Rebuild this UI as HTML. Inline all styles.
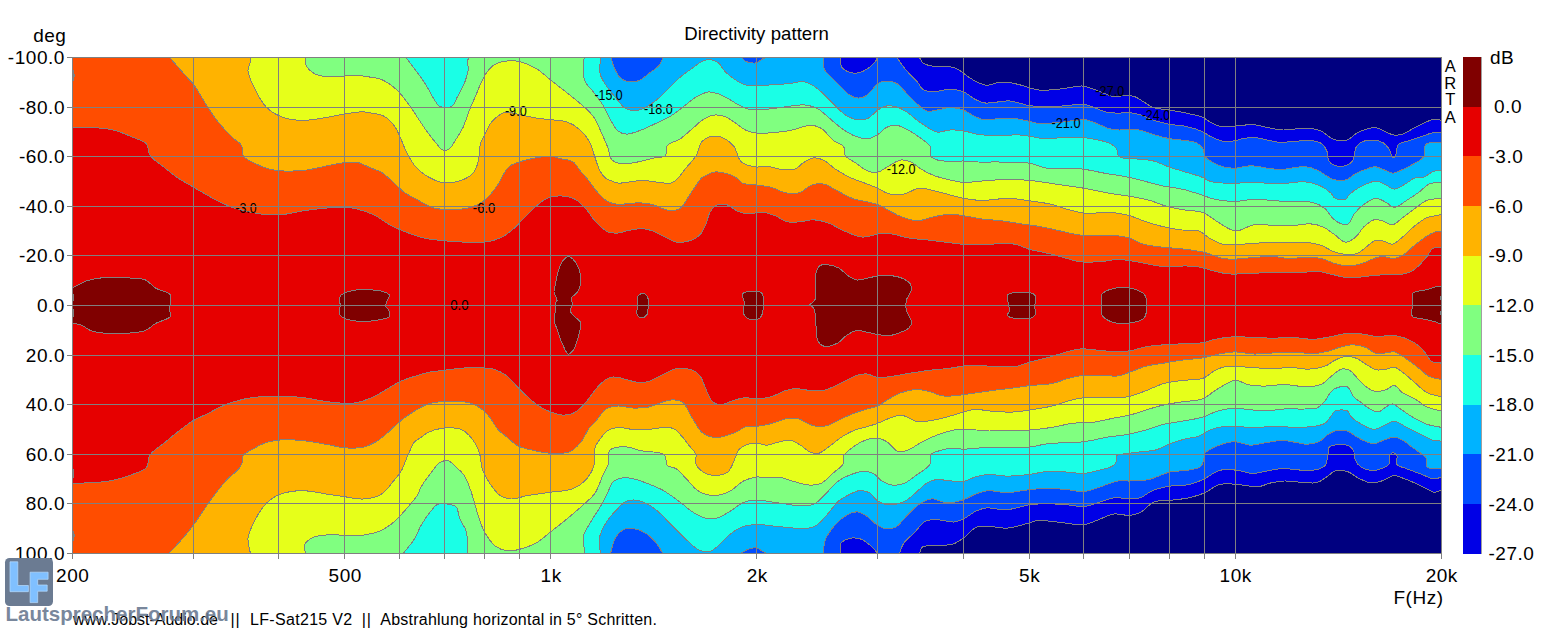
<!DOCTYPE html>
<html><head><meta charset="utf-8"><style>
html,body{margin:0;padding:0;background:#fff;}
body{width:1553px;height:633px;overflow:hidden;position:relative;font-family:"Liberation Sans",sans-serif;color:#000;}
svg{position:absolute;left:0;top:0;}
.t{position:absolute;white-space:nowrap;line-height:1;}
.cl{font-family:"Liberation Sans",sans-serif;font-size:14px;fill:#000;}
.ax{font-family:"Liberation Sans",sans-serif;font-size:19px;fill:#000;letter-spacing:0.55px;}
</style></head><body>
<svg width="1553" height="633" viewBox="0 0 1553 633" shape-rendering="crispEdges">
<rect x="72" y="57" width="1369" height="496" fill="#000080"/>
<defs><clipPath id="pc"><rect x="72" y="57" width="1369" height="496"/></clipPath></defs><g clip-path="url(#pc)">
<path d="M72.00,57.00L919.10,57.00C920.47,59.07 921.16,61.69 923.20,63.20C925.64,65.00 929.67,65.66 933.40,66.20C937.72,66.82 943.38,65.56 947.70,66.20C951.43,66.75 955.11,67.91 957.90,69.30C960.13,70.41 961.24,71.80 963.40,73.30C966.38,75.38 970.37,78.52 974.20,80.50C978.04,82.49 982.29,84.89 986.40,85.20C990.42,85.50 994.69,82.93 998.60,82.50C1002.13,82.11 1005.42,82.16 1008.80,82.50C1012.22,82.85 1015.64,83.75 1019.00,84.60C1022.37,85.45 1025.64,86.68 1029.00,87.60C1032.37,88.52 1035.27,89.71 1039.20,90.10C1044.40,90.61 1051.87,89.84 1057.60,89.30C1062.68,88.82 1067.54,87.78 1071.90,87.20C1075.55,86.71 1078.65,85.78 1082.00,86.00C1085.41,86.22 1088.84,87.50 1092.20,88.60C1095.64,89.72 1098.82,91.39 1102.40,92.70C1106.29,94.13 1110.75,96.43 1114.70,96.80C1118.22,97.13 1121.50,95.40 1124.90,95.40C1128.30,95.40 1131.82,95.64 1135.10,96.80C1138.61,98.04 1142.00,101.02 1145.20,102.90C1148.07,104.59 1150.07,106.45 1153.40,107.60C1157.80,109.12 1164.28,109.09 1169.70,110.00C1175.14,110.92 1180.58,111.90 1186.00,113.10C1191.45,114.30 1197.91,115.33 1202.30,117.20C1205.63,118.61 1207.72,120.83 1210.50,122.30C1213.16,123.71 1215.54,125.19 1218.60,125.90C1222.20,126.74 1226.89,126.51 1230.90,126.40C1234.75,126.29 1238.35,125.58 1242.20,125.30C1246.21,125.01 1250.43,124.36 1254.50,124.70C1258.60,125.05 1262.33,126.57 1266.70,127.40C1271.73,128.36 1277.73,129.80 1283.00,130.00C1287.91,130.18 1292.54,129.07 1297.30,128.80C1302.04,128.53 1307.20,127.84 1311.50,128.40C1315.22,128.88 1318.43,129.82 1321.70,131.40C1325.25,133.12 1328.54,137.07 1331.90,138.60C1334.66,139.86 1337.36,140.44 1340.10,140.60C1342.79,140.76 1345.62,140.63 1348.20,139.60C1351.09,138.44 1353.27,135.28 1356.40,133.50C1359.96,131.47 1364.87,129.24 1368.60,128.40C1371.54,127.74 1374.13,127.53 1376.80,128.00C1379.56,128.49 1382.19,130.25 1384.90,131.40C1387.63,132.55 1390.32,134.40 1393.10,134.90C1395.75,135.37 1398.31,135.26 1401.20,134.50C1404.95,133.52 1409.32,130.43 1413.40,128.40C1417.49,126.36 1421.99,123.92 1425.70,122.30C1428.65,121.01 1431.14,119.50 1433.80,119.20C1436.23,118.92 1438.60,119.87 1441.00,120.20L1441.00,490.30C1438.77,490.97 1436.61,492.45 1434.30,492.30C1431.70,492.13 1429.03,490.04 1426.20,488.70C1423.00,487.18 1419.65,485.23 1416.10,483.60C1412.28,481.85 1407.88,479.99 1404.00,478.60C1400.51,477.35 1397.22,475.27 1393.90,475.50C1390.49,475.74 1387.39,478.97 1383.80,480.20C1379.99,481.51 1375.77,483.29 1371.60,483.00C1367.02,482.68 1361.74,479.66 1357.50,477.60C1353.74,475.77 1351.00,472.62 1347.30,471.50C1343.57,470.37 1338.68,469.89 1335.20,470.90C1332.05,471.81 1329.99,474.73 1327.10,476.60C1323.96,478.64 1320.93,481.57 1317.00,482.60C1312.38,483.81 1306.20,482.47 1300.80,482.20C1295.40,481.93 1289.80,480.83 1284.60,481.00C1279.73,481.16 1274.99,482.01 1270.50,483.00C1266.25,483.94 1262.70,486.28 1258.30,486.70C1253.33,487.17 1246.34,485.47 1242.10,485.00C1239.35,484.69 1238.06,484.33 1235.30,484.20C1231.06,484.00 1224.15,483.19 1219.10,484.60C1214.05,486.02 1209.99,490.51 1205.00,492.70C1199.90,494.94 1194.49,496.53 1188.80,497.80C1182.73,499.16 1175.63,499.71 1169.60,500.40C1164.24,501.01 1159.14,499.97 1154.40,501.80C1149.29,503.78 1144.81,510.24 1140.20,512.50C1136.56,514.28 1133.43,515.06 1129.50,515.40C1124.84,515.81 1119.15,513.32 1114.00,514.00C1108.58,514.72 1103.04,518.16 1097.80,520.00C1092.93,521.71 1089.13,524.10 1083.60,524.70C1076.25,525.50 1065.49,522.70 1057.30,522.00C1050.13,521.38 1042.28,520.03 1037.10,520.60C1033.75,520.97 1032.38,522.11 1029.00,523.00C1023.44,524.46 1014.06,527.64 1006.80,528.10C999.94,528.54 992.19,526.10 986.60,526.10C982.62,526.10 979.79,525.67 976.40,527.10C972.01,528.96 967.64,535.22 963.30,538.20C959.58,540.76 956.62,543.05 952.20,544.30C946.62,545.88 937.56,544.62 932.00,545.30C928.03,545.79 923.88,545.61 921.90,547.30C920.38,548.60 920.50,551.10 919.80,553.00L72.00,553.00Z" fill="#0000E6"/>
<path d="M72.00,57.00L840.60,57.00C840.97,60.40 840.10,64.63 841.70,67.20C843.25,69.68 846.97,71.37 849.80,72.30C852.42,73.16 855.18,73.40 858.00,72.90C861.29,72.32 865.17,70.41 868.20,68.30C871.28,66.16 874.95,62.32 876.30,60.10C877.02,58.92 876.97,58.03 877.30,57.00L896.70,57.00C898.07,59.07 899.14,60.92 900.80,63.20C902.99,66.20 906.10,70.18 908.90,73.30C911.55,76.25 914.66,78.67 917.10,81.50C919.39,84.15 920.50,88.00 923.20,89.70C925.92,91.42 929.59,91.61 933.40,91.70C938.19,91.81 944.51,89.23 949.70,89.30C954.47,89.36 959.26,90.06 963.40,91.70C967.39,93.28 970.55,96.89 974.20,98.80C977.56,100.56 980.64,102.31 984.40,102.90C988.67,103.57 994.26,102.27 998.60,101.90C1002.28,101.59 1005.41,100.74 1008.80,100.90C1012.21,101.06 1015.63,102.12 1019.00,102.90C1022.36,103.68 1025.34,105.01 1029.00,105.60C1033.31,106.29 1038.53,106.27 1043.30,106.40C1048.06,106.53 1052.84,106.63 1057.60,106.40C1062.37,106.17 1067.32,105.36 1071.90,105.00C1076.12,104.67 1080.26,103.81 1084.10,104.30C1087.70,104.76 1090.76,106.38 1094.30,107.60C1098.20,108.95 1102.37,111.19 1106.50,112.10C1110.51,112.99 1114.81,113.06 1118.70,113.10C1122.25,113.14 1125.36,112.23 1128.90,112.50C1132.83,112.79 1137.17,113.84 1141.20,115.10C1145.34,116.39 1148.98,118.73 1153.40,120.20C1158.38,121.86 1164.24,123.26 1169.70,124.30C1175.10,125.32 1180.62,125.22 1186.00,126.40C1191.49,127.60 1197.89,129.50 1202.30,131.50C1205.61,133.00 1207.30,134.97 1210.50,136.50C1214.53,138.42 1220.33,141.04 1224.80,141.60C1228.54,142.07 1232.17,141.17 1235.40,140.60C1238.19,140.11 1240.22,139.09 1243.10,138.60C1246.68,137.99 1251.24,137.34 1255.30,137.60C1259.41,137.86 1263.50,139.41 1267.60,140.20C1271.67,140.98 1275.72,142.07 1279.80,142.30C1283.85,142.53 1287.46,141.85 1292.00,141.60C1297.74,141.29 1306.09,139.94 1311.50,140.60C1315.50,141.09 1319.10,141.84 1321.70,143.70C1324.06,145.39 1325.61,148.08 1326.80,150.80C1328.10,153.77 1327.39,158.53 1328.90,161.00C1330.09,162.95 1331.85,164.22 1334.00,165.10C1336.67,166.19 1341.02,166.82 1344.10,166.10C1347.11,165.40 1350.29,163.66 1352.30,161.00C1354.79,157.70 1354.22,150.06 1356.40,146.70C1358.00,144.25 1360.02,142.70 1362.50,141.60C1365.32,140.35 1369.31,140.04 1372.70,140.20C1376.12,140.36 1380.11,141.03 1382.90,142.60C1385.44,144.03 1387.33,146.36 1389.00,148.80C1390.79,151.41 1391.71,157.75 1393.10,157.90C1394.09,158.01 1395.31,155.61 1396.10,153.90C1397.19,151.55 1396.27,146.90 1398.20,144.70C1400.37,142.23 1405.58,141.94 1409.40,140.60C1413.37,139.21 1417.53,137.85 1421.60,136.50C1425.66,135.15 1430.23,133.07 1433.80,132.50C1436.48,132.07 1438.60,132.50 1441.00,132.50L1441.00,477.60C1438.10,477.93 1435.26,479.00 1432.30,478.60C1429.00,478.15 1425.98,475.96 1422.20,474.50C1417.45,472.66 1410.60,470.39 1406.00,468.50C1402.50,467.07 1398.38,466.69 1396.90,464.40C1395.49,462.21 1397.97,457.27 1396.90,455.30C1396.13,453.87 1394.12,452.63 1392.90,452.70C1391.77,452.77 1390.51,453.97 1389.80,455.30C1388.73,457.29 1390.25,462.18 1388.80,464.40C1387.43,466.50 1384.37,467.50 1381.70,468.50C1378.71,469.62 1374.95,470.67 1371.60,470.50C1368.21,470.33 1364.25,469.18 1361.50,467.40C1358.92,465.73 1356.75,463.15 1355.40,460.40C1353.98,457.50 1354.71,452.79 1353.40,450.30C1352.42,448.44 1351.25,447.15 1349.40,446.20C1346.92,444.92 1342.57,444.44 1339.20,444.60C1335.81,444.76 1330.85,445.25 1329.10,447.20C1327.65,448.82 1328.63,451.69 1328.10,454.30C1327.42,457.61 1327.18,462.84 1325.10,465.40C1323.25,467.67 1320.27,468.65 1317.00,469.50C1312.62,470.63 1306.35,470.24 1300.80,470.10C1294.91,469.95 1288.65,468.27 1282.60,468.50C1276.52,468.73 1269.85,470.60 1264.40,471.50C1259.96,472.23 1256.33,473.59 1252.30,473.50C1248.23,473.41 1244.07,471.58 1240.10,470.90C1236.38,470.27 1232.77,469.55 1229.20,469.50C1225.77,469.45 1222.73,469.36 1219.10,470.50C1214.19,472.05 1208.21,477.19 1202.90,479.60C1198.13,481.77 1193.94,483.49 1188.80,484.60C1182.97,485.86 1175.78,485.14 1169.60,486.20C1163.66,487.22 1157.51,488.59 1152.40,490.70C1147.84,492.58 1144.28,496.49 1140.20,497.80C1136.64,498.94 1133.40,498.74 1129.50,498.80C1124.81,498.87 1119.17,497.19 1114.00,497.80C1108.60,498.44 1103.04,501.31 1097.80,502.80C1092.93,504.19 1088.52,506.13 1083.60,506.50C1078.41,506.89 1073.10,505.24 1067.40,504.80C1061.04,504.31 1053.76,503.78 1047.20,503.80C1040.97,503.82 1034.41,503.97 1029.00,504.80C1024.52,505.49 1020.95,507.05 1016.90,507.90C1012.88,508.74 1009.25,509.78 1004.80,509.90C999.36,510.05 991.76,507.44 986.60,507.90C982.67,508.25 979.90,509.34 976.40,510.90C972.18,512.78 967.38,517.10 963.30,519.00C960.09,520.50 957.61,521.69 954.20,522.00C950.03,522.37 944.73,520.16 940.00,520.00C935.30,519.84 930.10,519.07 925.90,521.00C921.26,523.13 917.67,529.33 913.80,533.20C910.26,536.73 906.01,539.71 903.60,543.30C901.54,546.37 900.93,549.77 899.60,553.00L877.40,553.00C875.37,550.77 873.73,548.44 871.30,546.30C868.47,543.80 864.75,540.52 861.20,539.20C857.98,538.00 854.38,537.59 851.10,538.20C847.64,538.85 842.62,540.67 841.00,543.30C839.50,545.74 841.00,549.77 841.00,553.00L72.00,553.00Z" fill="#004DFF"/>
<path d="M72.00,57.00L610.90,57.00C611.93,60.43 612.53,63.95 614.00,67.30C615.55,70.83 617.49,75.16 620.10,77.60C622.39,79.73 625.33,81.15 628.30,81.70C631.46,82.29 635.32,81.91 638.60,80.70C642.22,79.37 645.52,76.04 648.90,73.50C652.35,70.91 656.64,68.33 659.10,65.30C661.17,62.74 661.90,59.77 663.30,57.00L741.30,57.00C742.67,58.40 743.73,60.24 745.40,61.20C747.14,62.21 749.62,62.55 751.60,62.80C753.37,63.02 755.04,63.31 756.70,62.80C758.59,62.22 760.25,60.07 762.20,59.10C764.12,58.14 766.27,57.70 768.30,57.00L823.30,57.00C823.63,61.10 822.82,65.83 824.30,69.30C825.69,72.55 828.99,74.72 831.50,77.40C834.09,80.16 836.88,82.88 839.60,85.60C842.32,88.32 844.90,91.61 847.80,93.70C850.37,95.55 853.12,97.31 855.90,97.80C858.56,98.27 861.54,97.95 864.10,96.80C867.02,95.49 869.81,92.06 872.20,89.70C874.31,87.63 875.48,84.93 877.80,83.50C880.21,82.01 883.48,81.16 886.50,81.10C889.76,81.04 893.53,81.73 896.70,83.50C900.42,85.57 903.50,90.30 906.90,93.70C910.30,97.10 913.57,100.92 917.10,103.90C920.39,106.67 923.72,110.17 927.30,111.10C930.55,111.94 933.96,110.54 937.50,110.00C941.40,109.41 945.51,107.64 949.70,107.60C954.13,107.55 959.22,108.49 963.40,110.00C967.35,111.43 970.58,114.54 974.20,116.20C977.58,117.75 980.66,119.32 984.40,119.80C988.69,120.35 994.25,118.87 998.60,118.60C1002.28,118.37 1005.40,118.10 1008.80,118.20C1012.20,118.30 1015.63,118.68 1019.00,119.20C1022.36,119.72 1025.84,120.58 1029.00,121.30C1031.87,121.95 1034.30,122.95 1037.20,123.30C1040.39,123.68 1043.61,123.46 1047.40,123.30C1052.20,123.09 1058.67,122.47 1063.70,121.90C1068.07,121.41 1072.01,120.55 1075.90,120.20C1079.44,119.88 1082.75,119.31 1086.10,119.80C1089.55,120.31 1092.77,121.96 1096.30,123.30C1100.21,124.79 1104.55,127.28 1108.50,128.40C1111.99,129.39 1115.13,129.81 1118.70,130.00C1122.60,130.21 1127.10,129.30 1131.00,129.40C1134.56,129.49 1137.69,129.65 1141.20,130.40C1145.13,131.24 1149.04,133.21 1153.40,134.50C1158.33,135.96 1163.90,137.59 1169.30,138.60C1174.76,139.63 1181.13,139.81 1186.00,140.60C1189.83,141.22 1193.37,141.34 1196.20,142.70C1198.67,143.89 1200.79,145.60 1202.30,147.80C1203.96,150.22 1203.80,154.62 1205.40,156.90C1206.72,158.78 1208.33,159.65 1210.50,161.00C1213.61,162.94 1218.49,165.50 1222.70,166.70C1226.80,167.87 1231.25,168.32 1235.40,168.20C1239.41,168.08 1243.62,166.42 1247.20,166.10C1250.14,165.84 1252.33,165.85 1255.30,166.10C1258.99,166.41 1263.34,167.63 1267.60,168.20C1272.15,168.81 1277.57,169.73 1281.80,169.60C1285.23,169.49 1287.66,168.55 1291.10,168.10C1295.35,167.55 1300.86,166.29 1305.40,166.70C1309.67,167.09 1314.03,168.62 1317.60,170.20C1320.71,171.58 1323.04,173.70 1325.80,175.30C1328.51,176.87 1330.89,178.92 1334.00,179.70C1337.57,180.60 1342.46,180.79 1346.20,179.70C1349.92,178.61 1352.91,174.99 1356.40,173.20C1359.72,171.49 1363.37,170.22 1366.60,169.10C1369.43,168.11 1371.85,166.64 1374.70,166.70C1377.91,166.77 1381.69,169.06 1384.90,170.20C1387.79,171.22 1390.38,173.21 1393.10,173.20C1395.81,173.19 1398.26,171.48 1401.20,170.20C1404.89,168.58 1409.59,166.28 1413.40,164.00C1417.03,161.83 1421.55,160.12 1423.60,156.90C1425.65,153.68 1423.60,147.09 1425.70,144.70C1427.44,142.72 1431.15,142.60 1433.80,142.20C1436.24,141.83 1438.60,142.20 1441.00,142.20L1441.00,468.10C1436.40,467.87 1429.49,469.56 1427.20,467.40C1425.34,465.64 1427.30,460.58 1426.20,458.30C1425.34,456.50 1423.92,455.74 1422.20,454.30C1419.67,452.17 1415.26,449.50 1412.10,447.20C1409.23,445.11 1406.97,442.77 1404.00,441.10C1400.92,439.37 1397.29,437.25 1393.90,437.10C1390.56,436.95 1387.16,438.99 1383.80,440.10C1380.39,441.22 1377.00,443.75 1373.60,443.80C1370.23,443.85 1366.62,441.85 1363.50,440.50C1360.59,439.25 1358.08,437.67 1355.40,436.10C1352.67,434.50 1350.42,431.90 1347.30,431.00C1343.79,429.99 1338.74,430.15 1335.20,431.00C1332.13,431.73 1329.71,433.39 1327.10,435.10C1324.29,436.94 1322.19,440.28 1319.00,441.80C1315.54,443.44 1310.76,444.13 1306.90,444.20C1303.39,444.27 1300.45,443.16 1296.80,442.60C1292.47,441.94 1287.49,440.54 1282.60,440.50C1277.38,440.45 1271.79,441.82 1266.40,442.60C1260.99,443.38 1255.47,445.37 1250.20,445.20C1245.11,445.03 1240.38,441.84 1235.30,441.80C1230.02,441.75 1224.17,443.27 1219.10,445.20C1214.08,447.12 1207.07,450.42 1205.00,453.30C1203.84,454.91 1204.53,456.46 1204.00,458.30C1203.31,460.70 1202.98,464.46 1200.90,466.40C1198.39,468.74 1193.35,469.18 1188.80,470.10C1183.18,471.24 1176.08,470.64 1169.60,472.10C1162.59,473.68 1155.27,478.14 1148.30,479.60C1141.93,480.93 1135.00,480.80 1129.50,481.00C1125.20,481.16 1122.31,480.30 1118.00,481.00C1112.14,481.95 1103.96,485.81 1097.80,487.70C1092.67,489.27 1088.53,491.33 1083.60,491.70C1078.42,492.09 1073.11,490.25 1067.40,489.70C1061.05,489.09 1053.76,488.28 1047.20,488.30C1040.97,488.32 1035.36,489.03 1029.00,489.70C1021.96,490.45 1013.84,492.61 1006.80,492.70C1000.44,492.78 994.03,490.34 988.60,490.70C984.10,491.00 980.47,492.27 976.40,493.70C972.04,495.24 968.07,498.30 963.30,499.80C958.06,501.45 951.52,503.08 946.10,502.80C941.14,502.54 936.49,498.55 932.00,498.80C927.74,499.04 923.78,501.24 919.80,503.80C914.98,506.90 909.98,512.86 905.70,517.00C902.02,520.56 899.31,525.21 895.60,527.10C892.45,528.70 888.54,529.12 885.40,528.70C882.51,528.31 880.22,526.86 877.40,525.10C873.61,522.74 869.03,517.23 865.20,515.00C862.37,513.35 859.97,512.00 857.10,511.90C853.94,511.79 850.34,513.19 847.00,515.00C842.92,517.21 838.47,521.01 834.90,525.10C830.98,529.59 826.52,536.05 824.80,541.20C823.44,545.27 824.13,549.07 823.80,553.00L766.10,553.00C764.77,552.33 763.54,551.75 762.10,551.00C760.36,550.09 758.55,548.26 756.40,547.90C753.95,547.49 750.66,548.42 748.10,549.30C745.64,550.15 743.57,551.77 741.30,553.00L662.40,553.00C660.90,550.40 659.97,547.90 657.90,545.20C655.14,541.61 650.63,536.65 646.60,533.90C643.07,531.49 639.23,529.73 635.40,529.00C631.72,528.30 627.41,527.96 624.10,529.40C620.59,530.93 617.32,534.71 615.10,538.40C612.67,542.44 612.10,548.13 610.60,553.00L72.00,553.00Z" fill="#00B3FF"/>
<path d="M72.00,57.00L601.20,57.00C600.67,60.43 599.65,64.06 599.60,67.30C599.55,70.19 599.62,72.59 600.60,75.50C601.89,79.33 605.16,84.06 607.80,87.90C610.32,91.57 613.23,94.81 616.00,98.10C618.70,101.30 621.19,105.32 624.20,107.40C626.73,109.15 629.47,110.21 632.40,110.50C635.60,110.82 639.24,110.10 642.70,108.80C646.77,107.28 651.03,104.20 655.00,101.20C659.28,97.97 663.32,93.80 667.40,89.90C671.55,85.93 675.46,81.27 679.70,77.60C683.68,74.15 688.06,71.25 692.00,68.40C695.56,65.82 698.91,62.66 702.30,61.20C705.06,60.01 707.81,59.20 710.50,59.50C713.28,59.81 716.35,61.33 718.70,63.20C721.21,65.20 722.38,68.80 724.90,71.40C727.75,74.34 731.65,77.42 735.20,79.70C738.50,81.82 741.81,83.78 745.40,84.80C748.98,85.81 752.51,85.76 756.70,85.80C761.94,85.85 768.62,84.99 774.40,84.60C779.95,84.22 785.67,84.08 790.70,83.50C795.07,83.00 799.07,81.08 802.90,81.50C806.51,81.90 809.83,83.70 813.10,85.60C816.66,87.67 819.84,90.60 823.30,93.70C827.29,97.27 831.56,102.26 835.50,106.00C839.00,109.32 841.91,112.79 845.70,115.10C849.42,117.37 854.04,119.38 858.00,119.80C861.51,120.17 865.04,119.65 868.20,118.20C871.69,116.59 874.53,112.09 877.80,110.00C880.65,108.18 883.41,106.52 886.50,106.00C889.70,105.46 893.39,106.04 896.70,107.00C900.20,108.01 903.61,110.00 906.90,112.10C910.42,114.34 913.49,117.56 917.10,120.20C920.93,123.00 925.55,126.32 929.30,128.40C932.23,130.03 934.43,131.71 937.50,132.10C941.10,132.56 945.50,130.24 949.70,130.00C954.12,129.75 958.77,130.10 963.40,130.80C968.30,131.54 972.91,133.71 978.30,134.50C984.50,135.41 991.82,135.43 998.60,135.50C1005.39,135.57 1013.41,134.65 1019.00,134.90C1022.93,135.08 1025.38,135.57 1029.00,136.10C1033.35,136.74 1038.09,138.28 1043.30,138.60C1049.48,138.98 1056.95,137.77 1063.70,137.60C1070.35,137.44 1077.63,137.14 1083.50,137.60C1088.25,137.97 1091.95,138.64 1096.30,139.60C1100.97,140.63 1106.98,141.78 1110.60,143.70C1113.25,145.10 1115.55,146.78 1116.70,148.80C1117.72,150.58 1116.66,153.36 1117.70,154.90C1118.72,156.41 1120.56,157.29 1122.80,158.00C1126.27,159.10 1132.18,158.53 1137.10,159.00C1142.36,159.51 1148.08,159.67 1153.40,161.00C1158.82,162.35 1163.90,165.24 1169.30,167.10C1174.77,168.98 1180.47,170.49 1186.00,172.20C1191.47,173.89 1197.85,175.50 1202.30,177.30C1205.56,178.62 1207.04,180.40 1210.50,181.40C1215.67,182.89 1224.09,183.23 1230.90,183.40C1237.69,183.57 1244.51,182.40 1251.30,182.40C1258.07,182.40 1265.15,183.30 1271.60,183.40C1277.46,183.49 1282.85,183.39 1288.40,183.10C1293.88,182.82 1299.31,181.20 1304.70,181.70C1310.18,182.20 1316.37,184.02 1321.00,186.20C1324.95,188.07 1328.60,190.95 1331.10,193.30C1332.92,195.01 1333.23,197.34 1335.20,198.40C1337.66,199.73 1342.94,200.43 1345.40,199.40C1347.37,198.57 1347.67,196.01 1349.50,194.30C1352.02,191.95 1355.75,189.27 1359.70,187.20C1364.37,184.75 1371.21,181.06 1376.00,181.10C1379.80,181.13 1383.03,183.68 1386.20,185.10C1389.09,186.39 1391.32,189.19 1394.30,189.20C1397.97,189.22 1402.97,185.13 1406.60,183.10C1409.63,181.40 1411.81,178.96 1414.70,178.00C1417.49,177.07 1420.64,178.24 1423.60,177.30C1427.01,176.21 1430.58,172.19 1433.80,171.20C1436.31,170.43 1438.60,170.93 1441.00,170.80L1441.00,441.10C1438.10,440.77 1435.08,440.92 1432.30,440.10C1429.48,439.27 1426.90,437.45 1424.20,436.10C1421.50,434.75 1418.91,433.41 1416.10,432.00C1413.06,430.48 1409.97,428.97 1406.60,427.30C1402.76,425.40 1398.01,421.38 1394.30,421.20C1391.35,421.06 1389.17,423.11 1386.20,424.30C1382.54,425.77 1378.08,429.39 1374.00,429.40C1369.91,429.41 1365.50,426.40 1361.70,424.30C1358.02,422.27 1353.96,419.65 1351.50,417.10C1349.62,415.15 1349.63,412.15 1347.50,411.00C1344.74,409.51 1338.01,409.65 1335.20,411.00C1333.15,411.98 1332.62,414.27 1331.10,416.10C1329.28,418.29 1327.59,421.51 1325.00,423.20C1322.24,425.00 1318.83,425.60 1314.80,426.30C1309.24,427.27 1301.27,427.30 1294.50,427.30C1287.71,427.30 1280.90,426.23 1274.10,426.30C1267.30,426.37 1260.31,427.73 1253.70,427.70C1247.43,427.68 1241.33,426.34 1235.40,426.30C1229.81,426.26 1223.84,426.44 1219.10,427.30C1215.29,427.99 1212.29,428.99 1209.00,430.40C1205.55,431.88 1202.67,434.67 1198.90,436.10C1194.68,437.69 1189.48,437.85 1184.70,439.10C1179.71,440.40 1174.41,441.97 1169.60,443.80C1164.99,445.56 1161.13,448.45 1156.40,449.80C1151.38,451.23 1145.59,451.22 1140.20,451.90C1134.83,452.58 1128.37,453.21 1124.10,453.90C1121.25,454.36 1118.35,453.88 1117.00,455.30C1115.66,456.72 1116.96,460.50 1116.00,462.40C1115.14,464.10 1113.87,465.25 1111.90,466.40C1108.75,468.24 1102.53,469.31 1097.80,470.50C1093.10,471.68 1088.51,473.20 1083.60,473.50C1078.40,473.82 1073.10,472.43 1067.40,472.10C1061.04,471.73 1053.74,471.06 1047.20,471.50C1040.95,471.92 1035.39,473.75 1029.00,474.50C1021.99,475.33 1013.83,476.16 1006.80,476.10C1000.43,476.05 994.05,474.30 988.60,474.50C984.12,474.67 980.48,475.38 976.40,476.50C972.05,477.69 967.91,480.89 963.30,481.60C958.50,482.34 952.88,480.95 948.10,480.60C943.84,480.28 939.79,479.04 936.00,479.60C932.42,480.13 929.10,481.62 925.90,483.60C922.32,485.82 919.40,489.75 915.80,492.70C911.99,495.82 908.21,499.78 903.60,501.80C898.82,503.89 892.19,505.25 887.50,504.80C883.68,504.43 880.40,502.77 877.40,500.80C874.32,498.77 872.44,494.37 869.30,492.70C866.33,491.11 862.53,490.40 859.20,490.70C855.76,491.01 852.32,493.06 849.00,494.70C845.55,496.40 842.20,498.00 838.90,500.80C834.76,504.32 830.73,510.74 826.80,515.00C823.36,518.73 820.34,522.80 816.70,525.10C813.54,527.10 810.18,528.17 806.60,528.70C802.78,529.26 798.97,528.44 794.40,528.10C788.51,527.66 780.72,526.72 774.20,526.10C768.08,525.52 762.07,524.25 756.40,524.50C751.14,524.73 746.01,525.31 741.30,527.20C736.46,529.15 731.71,532.99 727.80,536.20C724.34,539.04 721.92,542.58 718.80,545.20C715.90,547.63 713.14,550.73 709.80,551.50C706.39,552.29 702.20,551.39 698.50,549.70C693.90,547.61 689.42,542.43 685.00,538.40C680.38,534.19 675.92,529.40 671.40,524.90C666.89,520.40 662.36,515.14 657.90,511.40C654.11,508.22 650.52,505.40 646.60,503.50C642.99,501.75 638.96,500.41 635.40,500.10C632.27,499.83 629.36,499.85 626.40,501.20C622.57,502.95 618.52,507.76 615.10,511.40C611.77,514.94 608.66,518.43 606.10,522.70C603.31,527.34 600.18,533.15 599.30,538.40C598.48,543.25 600.03,548.13 600.40,553.00L72.00,553.00Z" fill="#1AFFE6"/>
<path d="M72.00,57.00L405.40,57.00C408.33,60.77 411.15,64.21 414.20,68.30C417.71,73.00 421.84,78.47 425.20,83.70C428.46,88.78 431.36,95.10 434.10,99.20C436.05,102.10 437.00,105.03 439.60,106.30C442.63,107.78 448.82,108.00 451.80,106.30C454.60,104.70 455.38,100.53 457.30,97.00C459.73,92.53 463.14,86.56 465.00,81.50C466.65,77.01 468.15,71.97 468.30,68.30C468.41,65.70 466.92,63.58 467.20,61.60C467.45,59.88 468.67,58.53 469.40,57.00L584.20,57.00C583.83,61.13 582.93,65.29 583.10,69.40C583.27,73.52 583.53,77.97 585.20,81.70C586.91,85.53 590.56,88.24 593.40,92.00C596.69,96.36 600.86,101.68 603.70,106.40C606.20,110.56 607.46,114.68 609.80,118.70C612.23,122.88 614.89,128.46 618.10,131.00C620.57,132.95 623.26,133.93 626.30,134.10C629.96,134.31 634.27,132.48 638.60,131.00C643.74,129.24 649.56,126.35 655.00,123.80C660.52,121.22 666.53,118.66 671.50,115.60C676.04,112.81 679.70,109.48 683.80,106.40C687.90,103.31 691.84,99.54 696.10,97.10C700.06,94.83 704.42,92.40 708.40,92.00C711.93,91.64 715.34,92.85 718.70,94.00C722.22,95.20 725.60,97.34 729.00,99.20C732.47,101.10 735.81,103.58 739.30,105.30C742.65,106.95 746.34,108.65 749.50,109.40C752.06,110.01 753.77,110.01 756.70,110.00C761.30,109.98 768.63,109.08 774.40,108.40C779.95,107.74 785.43,106.57 790.70,106.00C795.61,105.47 800.46,104.54 805.00,105.00C809.27,105.43 813.33,106.41 817.20,108.40C821.51,110.61 825.34,114.88 829.40,118.20C833.50,121.55 837.31,125.36 841.70,128.40C846.14,131.47 851.19,134.81 855.90,136.50C860.02,137.97 864.41,139.05 868.20,138.60C871.66,138.19 874.80,136.32 877.80,134.50C880.91,132.62 883.28,128.93 886.50,127.40C889.60,125.93 893.20,124.96 896.70,125.30C900.64,125.68 904.93,128.27 908.90,130.40C913.10,132.65 917.48,135.75 921.20,138.60C924.58,141.20 928.74,143.47 930.40,146.70C931.91,149.66 929.88,154.68 931.40,156.90C932.64,158.72 935.04,159.26 937.50,160.00C940.80,160.99 945.51,161.22 949.70,161.40C954.13,161.59 958.74,160.91 963.40,161.00C968.26,161.09 972.95,161.82 978.30,162.00C984.54,162.21 991.83,161.90 998.60,162.00C1005.39,162.10 1013.40,162.38 1019.00,162.60C1022.92,162.76 1025.20,162.49 1029.00,163.10C1034.25,163.95 1041.05,167.34 1047.40,168.20C1053.97,169.09 1061.45,168.00 1067.80,168.20C1073.38,168.38 1077.91,168.49 1083.50,169.20C1090.02,170.02 1097.23,171.90 1104.50,173.20C1112.32,174.60 1121.61,175.77 1128.90,177.30C1134.91,178.56 1139.57,179.97 1145.20,181.40C1151.24,182.93 1157.74,184.89 1164.00,186.20C1170.14,187.48 1176.16,187.76 1182.40,189.20C1189.07,190.73 1196.88,193.42 1202.80,195.30C1207.40,196.76 1210.35,198.40 1215.00,199.40C1220.87,200.66 1228.79,201.44 1235.40,201.40C1241.67,201.37 1246.81,199.55 1253.70,199.40C1262.59,199.21 1274.28,200.88 1284.30,201.40C1293.97,201.90 1305.44,200.61 1312.80,202.50C1317.89,203.81 1321.58,205.84 1325.00,208.60C1328.35,211.30 1330.24,216.16 1333.20,218.80C1335.73,221.06 1338.56,223.11 1341.30,223.90C1343.67,224.58 1346.55,225.05 1348.50,223.90C1350.86,222.51 1351.35,217.69 1353.60,214.70C1356.24,211.20 1360.00,207.24 1363.80,204.50C1367.49,201.84 1372.08,198.56 1376.00,198.40C1379.52,198.26 1383.06,200.91 1386.20,202.50C1389.12,203.98 1391.30,207.46 1394.30,207.50C1397.96,207.55 1402.55,202.91 1406.60,200.40C1410.72,197.85 1414.98,195.10 1418.80,192.30C1422.42,189.65 1425.22,185.79 1429.00,184.10C1432.65,182.47 1437.00,182.77 1441.00,182.10L1441.00,427.30C1436.30,426.30 1431.50,425.93 1426.90,424.30C1422.06,422.59 1417.19,419.71 1412.70,417.10C1408.38,414.59 1404.08,411.37 1400.40,409.00C1397.43,407.09 1394.84,404.03 1392.30,403.90C1390.16,403.79 1388.35,405.71 1386.20,406.90C1383.64,408.32 1380.80,411.72 1378.00,412.00C1375.36,412.27 1372.51,410.42 1369.90,409.00C1367.06,407.46 1364.42,404.95 1361.70,402.90C1358.98,400.85 1355.92,399.24 1353.60,396.70C1351.14,394.00 1350.34,388.46 1347.50,387.00C1344.82,385.62 1340.18,386.66 1337.30,387.60C1334.86,388.40 1332.98,389.74 1331.10,391.60C1328.79,393.88 1327.38,398.06 1325.00,400.80C1322.64,403.52 1320.15,406.61 1316.90,408.00C1313.45,409.48 1309.29,408.81 1304.70,409.00C1298.77,409.24 1291.09,408.67 1284.30,409.00C1277.49,409.33 1270.70,411.00 1263.90,411.00C1257.10,411.00 1249.93,409.31 1243.50,409.00C1237.77,408.72 1232.21,408.39 1227.20,409.00C1222.80,409.53 1219.02,410.68 1215.00,412.00C1210.88,413.36 1207.47,415.67 1202.80,417.10C1196.95,418.89 1189.03,419.97 1182.40,421.20C1176.12,422.36 1169.17,423.07 1164.00,424.30C1160.13,425.22 1157.46,426.33 1154.00,427.40C1150.25,428.56 1146.30,429.90 1142.30,431.00C1138.15,432.14 1134.35,433.18 1129.50,434.10C1123.26,435.29 1115.30,435.87 1107.90,437.10C1100.02,438.41 1090.91,440.92 1083.60,441.80C1077.68,442.51 1073.10,442.29 1067.40,442.60C1061.04,442.95 1053.73,443.00 1047.20,443.80C1040.95,444.57 1034.47,446.60 1029.00,447.20C1024.58,447.68 1021.45,447.57 1016.90,447.60C1011.03,447.64 1003.44,447.10 996.70,447.20C989.94,447.30 982.43,447.82 976.40,448.20C971.55,448.50 967.48,449.23 963.30,449.20C959.45,449.17 955.97,448.00 952.20,448.20C948.21,448.41 943.71,449.48 940.00,450.60C936.72,451.59 932.69,452.05 931.00,454.30C929.27,456.60 931.63,461.28 929.90,464.40C927.60,468.54 920.40,472.17 915.80,475.50C911.65,478.50 907.85,482.04 903.60,483.60C899.72,485.02 895.28,485.56 891.50,485.00C887.90,484.46 884.45,482.53 881.40,480.60C878.39,478.69 876.38,475.01 873.30,473.50C870.29,472.02 866.71,471.42 863.20,471.50C859.34,471.59 855.06,473.04 851.10,474.50C846.96,476.03 842.89,477.73 838.90,480.60C834.08,484.07 829.16,490.56 824.80,494.70C821.20,498.12 818.52,501.94 814.70,503.80C811.05,505.57 807.18,505.78 802.50,505.90C796.21,506.06 787.11,504.12 780.30,503.20C774.47,502.41 768.51,501.33 764.10,500.80C761.07,500.44 759.28,499.97 756.40,500.10C752.66,500.26 747.76,500.73 743.60,502.40C738.94,504.27 734.61,508.73 730.00,511.40C725.57,513.97 720.92,517.15 716.50,518.20C712.68,519.11 709.02,519.11 705.20,518.20C700.78,517.15 695.86,514.08 691.70,511.40C687.64,508.79 684.75,505.55 680.50,502.40C675.25,498.50 668.39,493.30 662.40,490.00C657.10,487.08 651.70,485.14 646.60,483.20C641.96,481.43 637.44,479.54 633.10,478.70C629.24,477.95 625.37,477.37 621.90,478.00C618.63,478.60 615.07,479.92 612.80,482.10C610.53,484.28 609.95,487.80 608.30,491.10C606.29,495.14 604.26,499.84 601.60,504.60C598.44,510.26 593.48,517.04 590.30,522.70C587.62,527.46 584.48,531.31 583.50,536.20C582.47,541.36 584.30,547.40 584.70,553.00L467.50,553.00C467.10,545.90 467.93,537.85 466.30,531.70C464.93,526.53 461.33,522.57 459.60,518.20C458.07,514.33 458.42,509.20 456.20,506.90C454.33,504.96 451.21,504.63 448.30,504.20C444.91,503.70 439.76,503.40 437.00,504.60C434.93,505.50 434.23,507.05 432.50,509.10C429.48,512.68 424.36,519.71 421.30,524.90C418.61,529.46 416.97,534.77 414.80,538.40C413.20,541.08 411.74,542.72 410.00,545.00C408.05,547.56 405.73,550.33 403.60,553.00L72.00,553.00Z" fill="#80FF80"/>
<path d="M72.00,57.00L305.50,57.00C305.50,59.33 304.63,61.68 305.50,64.00C306.64,67.03 310.18,70.93 313.40,73.00C316.59,75.05 320.35,75.81 324.70,76.40C330.33,77.17 338.01,76.07 344.50,76.00C350.77,75.94 358.31,75.63 363.00,76.00C365.90,76.23 367.41,76.64 370.00,77.10C373.26,77.68 377.44,77.93 381.00,79.30C384.82,80.77 388.89,83.51 392.10,85.90C394.91,87.99 396.87,89.87 399.40,92.60C402.70,96.16 406.56,101.32 409.80,105.80C412.95,110.16 415.65,114.68 418.60,119.10C421.55,123.51 424.46,128.15 427.50,132.30C430.37,136.22 433.67,140.27 436.30,143.40C438.31,145.80 439.62,148.62 441.80,149.60C443.76,150.48 446.43,150.65 448.50,149.60C451.39,148.13 453.81,142.63 456.20,139.00C458.57,135.40 460.77,132.13 462.80,127.90C465.25,122.78 467.11,115.87 469.40,110.20C471.56,104.86 473.89,99.95 476.10,94.80C478.32,89.65 480.21,83.92 482.70,79.30C484.91,75.21 487.50,70.98 490.00,68.30C491.83,66.34 493.17,65.17 495.60,64.00C499.02,62.35 504.86,60.90 509.20,60.60C513.09,60.33 516.43,60.77 520.40,61.80C525.30,63.07 531.27,65.57 536.20,68.50C541.25,71.50 545.57,75.97 550.30,79.70C555.07,83.47 559.76,87.06 564.70,91.00C570.01,95.23 576.13,99.82 581.10,104.30C585.61,108.36 590.01,111.89 593.40,116.60C596.89,121.45 599.12,127.77 601.60,133.10C603.88,138.01 606.03,142.76 607.80,147.40C609.42,151.64 609.31,157.05 611.90,159.80C614.29,162.34 618.30,163.41 622.20,163.90C626.97,164.50 633.16,162.82 638.60,161.80C644.10,160.76 650.15,158.78 655.00,157.70C658.82,156.85 663.23,157.75 665.30,155.70C667.37,153.65 665.36,148.07 667.40,145.40C669.74,142.34 675.74,141.79 679.70,139.20C683.96,136.41 687.90,132.41 692.00,129.00C696.10,125.58 700.17,121.07 704.30,118.70C707.71,116.74 711.12,115.33 714.60,115.00C717.99,114.68 721.58,115.40 724.90,116.60C728.46,117.89 731.81,120.59 735.20,122.80C738.65,125.05 741.75,128.28 745.40,130.00C748.93,131.67 752.47,132.60 756.70,133.10C761.90,133.71 768.63,132.97 774.40,132.50C779.96,132.05 785.00,131.48 790.70,130.40C797.15,129.18 805.48,125.16 811.10,125.30C815.10,125.40 817.99,126.41 821.30,128.40C825.51,130.93 829.42,137.42 833.50,140.60C836.89,143.24 841.94,143.99 843.70,146.70C845.17,148.96 843.26,152.44 844.70,154.90C846.57,158.09 852.04,160.42 855.90,163.10C859.87,165.86 864.18,169.76 868.20,171.20C871.45,172.36 874.61,172.86 877.80,172.20C881.41,171.45 884.86,168.09 888.60,166.10C892.52,164.02 896.83,160.54 900.80,160.00C904.27,159.53 907.74,160.61 911.00,162.00C914.57,163.53 917.56,167.02 921.20,169.20C925.00,171.48 929.09,173.62 933.40,175.30C937.90,177.05 942.79,178.23 947.70,179.40C952.78,180.61 958.02,182.09 963.40,182.40C969.01,182.72 974.55,181.54 980.70,181.10C987.71,180.60 995.39,179.74 1003.20,179.60C1011.67,179.45 1020.43,179.59 1029.70,180.40C1040.03,181.30 1052.57,183.69 1062.30,185.10C1070.18,186.24 1076.27,186.92 1083.70,188.20C1091.85,189.60 1101.16,191.91 1109.20,193.30C1116.36,194.54 1122.82,195.12 1129.60,196.30C1136.39,197.48 1143.80,198.69 1149.90,200.40C1155.09,201.85 1158.94,204.03 1164.00,205.50C1169.68,207.15 1176.09,208.43 1182.40,209.60C1189.00,210.82 1196.60,210.32 1202.80,212.60C1208.79,214.80 1213.59,219.70 1219.10,222.80C1224.46,225.82 1229.72,230.59 1235.40,231.00C1241.24,231.42 1247.35,225.87 1253.70,224.90C1260.23,223.91 1267.30,225.23 1274.10,225.30C1280.90,225.37 1288.09,225.57 1294.50,225.30C1300.24,225.05 1305.79,223.51 1310.80,223.90C1315.19,224.24 1319.08,225.17 1323.00,226.90C1327.24,228.78 1331.33,232.45 1335.20,235.10C1338.76,237.54 1341.92,241.95 1345.40,242.20C1348.73,242.44 1352.61,239.51 1355.60,237.10C1358.80,234.52 1360.68,229.81 1363.80,226.90C1366.84,224.07 1370.64,220.63 1374.00,219.80C1376.72,219.13 1379.29,220.08 1382.10,220.80C1385.36,221.64 1389.00,225.29 1392.30,224.90C1395.82,224.49 1398.97,220.27 1402.50,217.70C1406.40,214.87 1410.60,211.51 1414.70,208.60C1418.73,205.74 1422.48,202.10 1426.90,200.40C1431.25,198.73 1436.30,199.07 1441.00,198.40L1441.00,411.00C1436.30,409.63 1431.29,408.94 1426.90,406.90C1422.52,404.87 1418.84,401.20 1414.70,398.80C1410.70,396.49 1406.03,395.08 1402.50,392.70C1399.34,390.57 1397.15,385.86 1394.30,385.50C1391.70,385.17 1389.13,388.59 1386.20,389.60C1383.06,390.68 1379.33,392.04 1376.00,391.60C1372.52,391.14 1368.85,388.78 1365.80,386.60C1362.71,384.39 1360.32,381.12 1357.60,378.40C1354.89,375.69 1352.48,371.77 1349.50,370.30C1346.97,369.05 1344.05,368.53 1341.30,369.20C1337.92,370.03 1334.45,373.88 1331.10,376.40C1327.69,378.97 1325.05,382.78 1321.00,384.50C1316.44,386.44 1310.44,386.53 1304.70,386.60C1298.29,386.68 1291.10,384.58 1284.30,384.50C1277.50,384.42 1270.32,386.16 1263.90,386.10C1258.16,386.04 1252.57,385.64 1247.60,384.50C1243.17,383.48 1239.05,379.91 1235.40,380.00C1232.38,380.08 1230.15,382.02 1227.20,383.50C1223.48,385.37 1219.03,388.08 1215.00,390.60C1210.89,393.17 1207.63,396.93 1202.80,398.80C1197.08,401.01 1189.02,400.76 1182.40,401.80C1176.10,402.79 1170.07,403.54 1164.00,404.90C1157.90,406.27 1151.76,408.26 1145.90,410.00C1140.31,411.66 1135.07,413.73 1129.60,415.10C1124.21,416.45 1119.03,417.08 1113.30,418.20C1106.88,419.46 1099.73,421.45 1092.90,422.30C1086.13,423.14 1079.27,422.46 1072.50,423.30C1065.67,424.15 1059.14,426.30 1052.10,427.40C1044.66,428.56 1036.64,429.50 1029.00,430.00C1021.54,430.49 1013.83,430.22 1006.80,430.40C1000.43,430.56 994.06,431.13 988.60,431.00C984.12,430.89 980.54,430.33 976.40,430.00C972.11,429.66 967.00,428.98 963.30,429.00C960.57,429.01 958.76,429.19 956.20,429.60C953.11,430.09 949.71,430.92 946.10,432.00C941.76,433.30 936.48,435.18 932.00,437.10C927.73,438.93 923.83,441.03 919.80,443.20C915.72,445.40 911.69,448.89 907.70,450.20C904.30,451.31 900.76,452.32 897.60,451.30C893.95,450.12 891.07,444.44 887.50,442.20C884.30,440.20 881.11,438.43 877.40,438.10C873.12,437.72 867.77,439.23 863.20,441.10C858.28,443.12 852.42,447.42 849.00,450.20C846.78,452.01 845.02,453.14 844.00,455.30C842.84,457.74 844.37,461.78 843.00,464.40C841.52,467.25 837.99,468.83 834.90,471.50C830.84,475.01 825.58,481.48 820.70,483.60C816.76,485.31 812.77,485.25 808.60,485.00C804.03,484.73 799.11,482.85 794.40,481.60C789.68,480.35 785.06,478.18 780.30,477.50C775.62,476.83 770.38,477.59 766.10,477.50C762.56,477.43 759.82,476.66 756.40,477.10C752.39,477.61 747.75,478.90 743.60,481.00C738.93,483.36 734.94,488.66 730.00,491.10C725.15,493.49 719.54,495.60 714.30,495.60C709.04,495.60 703.04,493.77 698.50,491.10C694.02,488.47 690.97,483.55 687.20,479.80C683.44,476.05 679.72,471.05 675.90,468.60C672.93,466.69 668.78,467.38 666.90,465.20C664.95,462.93 667.23,457.45 664.70,455.00C660.77,451.20 646.53,452.07 639.90,450.50C635.37,449.43 632.41,447.74 628.60,447.20C624.87,446.67 620.66,446.52 617.30,447.20C614.39,447.79 611.09,448.31 609.50,450.50C607.48,453.28 609.42,460.13 608.30,464.10C607.33,467.51 605.51,469.47 603.80,473.10C601.26,478.49 598.59,487.91 594.80,493.40C591.60,498.05 587.65,500.76 583.50,504.60C578.76,508.99 573.18,513.73 567.80,518.20C562.31,522.76 556.36,527.42 550.90,531.70C545.85,535.66 541.59,540.01 536.20,543.00C530.71,546.04 523.58,548.46 518.20,549.70C514.07,550.65 510.60,551.33 506.90,550.80C503.07,550.26 499.04,548.90 495.60,546.30C491.37,543.10 487.38,537.07 484.40,531.70C481.34,526.20 479.75,520.00 477.60,513.60C475.23,506.55 473.36,497.87 470.90,491.10C468.80,485.30 467.02,479.61 464.10,475.30C461.59,471.59 457.95,468.89 455.10,466.30C452.73,464.15 450.89,461.29 448.30,460.70C445.64,460.09 441.88,461.32 439.30,462.90C436.56,464.58 434.97,467.65 432.50,470.80C429.14,475.10 424.00,481.96 421.30,486.60C419.37,489.92 419.00,492.55 417.10,495.60C414.80,499.29 411.41,502.95 408.00,506.90C404.01,511.52 399.25,517.45 394.50,521.50C390.21,525.16 386.03,528.26 381.00,530.50C375.61,532.90 369.09,534.33 363.00,535.10C356.92,535.86 350.77,535.10 344.50,535.10C338.01,535.10 330.36,534.55 324.70,535.10C320.39,535.52 316.76,535.65 313.40,537.30C309.97,538.98 305.49,542.25 304.40,545.20C303.51,547.59 305.13,550.40 305.50,553.00L72.00,553.00Z" fill="#E6FF1A"/>
<path d="M72.00,57.00L250.30,57.00C250.30,58.60 250.53,59.97 250.30,61.80C249.98,64.35 247.81,67.32 248.00,70.80C248.28,75.81 251.90,82.94 254.80,88.80C257.84,94.95 261.30,102.03 266.00,106.80C270.44,111.30 276.04,114.73 281.90,117.00C287.99,119.36 294.78,120.24 302.00,120.40C310.37,120.58 321.45,118.24 329.20,117.00C335.05,116.06 339.14,114.84 344.50,114.00C350.36,113.08 358.31,111.71 363.00,111.80C365.89,111.85 367.30,112.39 370.00,112.90C373.74,113.60 379.32,113.76 383.30,115.80C387.45,117.93 391.37,121.84 394.30,125.70C397.24,129.57 398.75,134.38 400.90,139.00C403.19,143.92 404.97,149.56 407.60,154.40C410.16,159.11 412.96,163.95 416.40,167.70C419.65,171.24 423.46,174.10 427.50,176.50C431.56,178.91 436.66,181.14 440.70,182.10C443.89,182.86 446.36,182.93 449.60,182.70C453.59,182.42 458.75,181.66 462.80,179.90C466.86,178.13 471.30,175.38 473.90,172.10C476.33,169.03 477.22,165.28 478.30,161.10C479.62,155.97 479.05,148.18 480.50,143.40C481.57,139.85 483.30,137.75 484.90,134.60C486.78,130.90 488.10,126.13 491.10,122.60C494.46,118.65 499.77,113.74 504.70,112.50C509.38,111.32 514.68,113.80 519.80,114.70C525.17,115.65 530.92,117.26 536.20,118.10C541.06,118.88 545.42,119.11 550.30,119.70C555.56,120.34 561.78,120.12 566.70,121.80C571.27,123.36 575.32,125.89 579.00,129.00C582.91,132.30 586.72,136.79 589.30,141.30C591.82,145.71 592.68,150.91 594.40,155.70C596.12,160.48 597.46,166.00 599.60,170.00C601.36,173.29 603.36,176.43 605.70,178.30C607.63,179.84 609.99,180.28 612.10,181.10C614.09,181.87 615.73,182.84 618.00,183.10C620.91,183.43 624.52,182.50 628.20,182.10C632.57,181.63 637.73,180.40 642.50,180.40C647.27,180.40 652.04,181.65 656.80,182.10C661.54,182.55 667.35,184.06 671.00,183.10C673.63,182.41 675.11,180.91 677.20,179.00C680.08,176.37 682.95,171.76 686.00,168.00C689.24,164.00 693.38,160.17 696.10,155.70C698.80,151.26 698.83,144.57 702.30,141.30C705.73,138.07 711.84,135.69 716.70,136.10C722.09,136.56 728.99,141.07 733.10,145.40C737.15,149.67 737.17,158.20 741.30,161.80C745.19,165.19 752.13,166.47 756.70,167.00C760.20,167.41 762.73,165.89 766.20,166.10C770.50,166.36 775.71,168.69 780.50,169.20C785.24,169.71 790.88,170.51 794.80,169.20C798.10,168.10 799.95,164.92 802.90,163.10C806.02,161.17 809.62,158.47 813.10,158.00C816.42,157.55 819.92,158.49 823.30,160.00C827.40,161.83 831.17,166.36 835.50,169.20C839.99,172.14 844.90,174.97 849.80,177.30C854.64,179.60 859.91,181.22 864.70,183.10C869.16,184.85 873.47,186.36 877.60,188.20C881.56,189.97 884.86,192.86 889.00,193.90C893.39,195.00 898.46,195.11 903.30,194.30C908.64,193.41 913.79,188.66 919.60,188.20C925.95,187.69 932.98,190.69 940.00,192.30C947.60,194.05 956.32,197.04 963.60,198.40C969.72,199.54 974.26,200.25 980.70,200.40C989.01,200.59 1000.58,198.19 1009.30,198.40C1016.68,198.57 1022.75,199.82 1029.70,200.80C1037.00,201.83 1045.28,202.88 1052.10,204.50C1058.02,205.91 1063.02,208.15 1068.40,209.60C1073.55,210.99 1078.26,212.54 1083.70,213.10C1089.75,213.72 1097.66,212.76 1103.10,212.70C1107.04,212.66 1109.52,212.36 1113.30,212.70C1118.12,213.14 1124.23,214.21 1129.60,215.70C1135.10,217.22 1140.28,219.96 1145.90,221.80C1151.74,223.71 1157.90,225.53 1164.00,226.90C1170.07,228.26 1176.43,229.32 1182.40,230.00C1187.98,230.64 1193.85,229.37 1198.70,231.00C1203.29,232.54 1206.72,236.87 1210.90,239.10C1214.87,241.22 1218.94,243.26 1223.10,244.20C1227.11,245.11 1230.90,244.89 1235.40,244.80C1240.90,244.69 1247.43,243.54 1253.70,243.20C1260.31,242.85 1266.61,242.95 1274.10,242.80C1283.27,242.62 1296.12,241.48 1304.70,242.20C1311.01,242.73 1316.06,243.63 1321.00,245.30C1325.48,246.81 1329.05,249.87 1333.20,251.40C1337.19,252.87 1341.31,254.07 1345.40,254.40C1349.44,254.72 1354.10,254.72 1357.60,253.40C1360.80,252.19 1362.90,249.39 1365.80,247.30C1369.00,245.00 1372.64,241.03 1376.00,240.20C1378.72,239.53 1381.43,240.56 1384.10,241.20C1386.86,241.87 1389.51,244.56 1392.30,244.20C1395.62,243.77 1399.04,239.87 1402.50,237.10C1406.49,233.90 1410.50,229.20 1414.70,225.90C1418.65,222.79 1422.49,219.57 1426.90,217.70C1431.27,215.85 1436.30,215.70 1441.00,214.70L1441.00,396.70C1436.30,395.37 1431.21,394.98 1426.90,392.70C1422.41,390.33 1418.77,385.90 1414.70,382.50C1410.63,379.10 1406.25,375.02 1402.50,372.30C1399.58,370.18 1397.12,367.65 1394.30,367.20C1391.68,366.78 1389.08,368.76 1386.20,369.20C1383.02,369.68 1379.29,370.56 1376.00,369.80C1372.48,368.99 1369.19,366.06 1365.80,364.10C1362.39,362.13 1359.13,359.28 1355.60,358.00C1352.31,356.81 1348.76,356.08 1345.40,356.40C1341.96,356.73 1338.53,358.52 1335.20,360.10C1331.72,361.75 1328.95,364.71 1325.00,366.20C1320.33,367.96 1313.96,368.98 1308.70,369.20C1303.82,369.40 1299.67,368.00 1294.50,367.80C1288.32,367.56 1280.90,368.20 1274.10,368.20C1267.30,368.20 1260.31,368.15 1253.70,367.80C1247.43,367.46 1240.90,366.22 1235.40,366.20C1230.89,366.19 1226.72,366.38 1223.10,367.20C1220.06,367.89 1217.89,368.81 1215.00,370.30C1211.25,372.23 1207.64,376.68 1202.80,378.40C1197.08,380.44 1189.01,379.52 1182.40,380.40C1176.09,381.24 1170.02,381.82 1164.00,383.50C1157.85,385.22 1151.80,388.50 1145.90,390.70C1140.35,392.77 1134.71,395.23 1129.60,396.40C1125.27,397.39 1121.40,397.57 1117.30,397.80C1113.23,398.03 1109.73,397.80 1105.10,397.80C1098.96,397.80 1090.21,397.15 1083.70,397.80C1078.14,398.36 1073.55,399.58 1068.40,400.90C1063.02,402.28 1058.01,404.55 1052.10,406.00C1045.27,407.67 1036.82,408.96 1029.70,410.00C1023.28,410.94 1017.60,411.90 1011.30,412.10C1004.68,412.31 997.31,411.59 990.90,411.10C985.16,410.66 979.47,409.07 974.60,409.40C970.55,409.68 967.68,411.01 963.60,412.10C958.43,413.49 951.85,415.73 946.10,417.20C940.59,418.61 934.88,420.06 929.80,420.80C925.44,421.44 921.11,422.31 917.50,421.70C914.45,421.18 912.12,419.30 909.40,418.20C906.69,417.10 904.11,415.28 901.20,415.10C898.01,414.91 894.58,416.41 891.00,417.60C886.78,419.00 882.06,421.65 877.60,423.30C873.30,424.90 868.69,426.22 864.70,427.40C861.28,428.41 858.42,428.73 855.10,430.00C851.23,431.48 846.94,433.66 843.00,436.10C838.83,438.68 834.90,442.30 830.80,445.20C826.79,448.03 822.49,452.40 818.70,453.30C815.86,453.97 813.32,453.35 810.60,452.30C807.26,451.01 803.94,447.26 800.50,445.20C797.20,443.22 794.01,440.64 790.40,440.10C786.63,439.54 782.33,441.36 778.30,442.20C774.23,443.05 769.47,445.17 766.10,445.20C763.72,445.22 762.39,444.03 760.00,443.80C756.71,443.48 751.69,443.18 748.10,444.20C744.73,445.15 741.26,446.90 739.00,449.40C736.67,451.98 736.23,456.07 734.50,459.60C732.56,463.57 731.19,469.38 727.80,472.00C724.44,474.60 718.59,475.40 714.30,475.30C710.35,475.21 706.16,474.15 703.00,472.00C699.70,469.75 695.92,465.03 695.10,461.80C694.50,459.44 696.76,457.30 696.20,455.00C695.48,452.06 691.93,449.14 689.50,446.00C686.75,442.45 683.49,437.90 680.50,434.80C678.03,432.24 676.12,429.61 673.10,428.40C669.72,427.05 665.12,427.61 660.90,427.80C656.31,428.01 651.38,429.53 646.60,429.80C641.84,430.06 637.06,429.80 632.30,429.40C627.52,429.00 622.27,427.08 618.00,427.40C614.42,427.67 611.06,428.65 608.30,430.30C605.63,431.90 603.69,434.33 601.60,437.00C599.13,440.15 595.83,444.61 594.80,448.30C593.95,451.35 594.98,454.31 594.80,457.30C594.62,460.31 594.77,463.12 593.70,466.30C592.29,470.48 589.31,476.06 585.80,479.80C582.22,483.62 577.58,486.83 572.30,488.90C566.21,491.28 558.22,491.11 550.90,492.20C543.20,493.35 534.28,494.33 527.20,495.60C521.38,496.64 516.19,499.20 511.40,499.00C507.32,498.83 503.64,497.87 500.20,495.60C495.99,492.81 491.98,486.78 488.90,482.10C486.04,477.76 483.60,473.23 482.10,468.60C480.67,464.18 481.08,459.25 479.90,455.00C478.79,451.02 477.33,447.21 475.40,443.80C473.53,440.50 471.11,437.27 468.60,434.80C466.33,432.57 464.02,430.57 461.20,429.40C458.22,428.16 454.48,427.97 451.10,427.80C447.72,427.63 444.46,427.74 440.90,428.40C436.81,429.16 431.67,430.68 428.00,432.50C424.88,434.04 422.39,436.48 420.00,438.10C418.09,439.39 416.42,439.68 414.80,441.50C412.27,444.34 410.18,450.29 408.00,455.00C405.67,460.02 403.84,466.40 401.30,470.80C399.24,474.37 397.25,476.51 394.50,479.80C390.85,484.18 386.38,491.30 381.00,494.50C375.82,497.58 369.08,498.63 363.00,499.00C356.91,499.37 350.37,497.49 344.50,496.70C339.15,495.98 335.02,495.33 329.20,494.50C321.45,493.40 310.70,490.58 302.10,490.70C294.24,490.81 285.93,491.99 279.60,494.50C274.27,496.62 270.06,499.54 266.10,503.50C261.66,507.93 257.84,514.50 254.80,520.40C251.84,526.14 248.59,532.64 248.00,538.40C247.48,543.45 249.53,548.13 250.30,553.00L72.00,553.00Z" fill="#FFB300"/>
<path d="M72.00,57.00L169.20,57.00C175.20,63.83 182.71,72.53 187.20,77.50C189.81,80.40 191.15,81.23 193.50,84.30C197.47,89.50 202.99,100.02 207.50,106.80C211.35,112.59 214.61,117.56 218.70,122.60C222.86,127.73 228.14,133.24 232.30,137.30C235.52,140.44 239.44,141.96 241.30,145.20C243.12,148.36 241.72,153.71 243.50,156.40C245.01,158.68 247.40,159.41 250.30,161.00C254.78,163.46 262.38,167.14 268.30,168.80C273.63,170.30 278.36,170.73 284.10,171.00C290.93,171.32 299.13,170.92 306.60,170.00C314.16,169.07 322.39,166.69 329.20,165.40C334.79,164.34 339.49,163.14 344.50,162.70C349.25,162.28 354.15,161.80 358.50,162.70C362.62,163.56 366.20,166.11 370.00,167.70C373.70,169.24 377.47,170.04 381.00,172.10C384.87,174.36 388.38,177.78 392.10,181.00C396.11,184.47 399.80,189.06 404.20,192.30C408.57,195.52 413.62,197.84 418.40,200.40C423.13,202.94 428.07,206.07 432.70,207.60C436.67,208.91 440.32,209.26 444.30,209.60C448.47,209.96 452.67,210.03 457.20,209.60C462.34,209.12 468.60,208.33 473.50,206.50C478.02,204.81 482.22,202.24 485.70,199.40C488.95,196.75 491.71,192.94 493.90,190.20C495.54,188.15 496.27,187.03 497.90,184.60C500.76,180.33 504.13,170.75 509.20,166.60C514.02,162.65 520.69,161.48 527.20,159.80C534.46,157.93 544.78,156.12 550.90,156.40C554.83,156.58 557.10,157.87 560.50,158.70C564.37,159.65 569.48,159.60 572.90,161.80C576.37,164.03 578.59,169.18 581.10,172.10C583.07,174.38 584.60,175.62 586.60,178.00C589.35,181.28 592.51,186.42 595.80,190.20C598.99,193.87 602.15,198.00 606.00,200.40C609.61,202.65 614.11,204.05 618.00,204.50C621.49,204.91 624.64,203.76 628.20,203.50C632.10,203.21 636.42,202.73 640.50,202.90C644.58,203.07 648.87,203.50 652.70,204.50C656.32,205.45 659.66,207.55 662.90,208.60C665.72,209.51 668.15,210.66 671.00,210.60C674.21,210.53 678.48,209.59 681.20,207.60C683.98,205.57 685.20,201.69 687.40,198.40C689.93,194.62 692.94,189.83 695.50,186.20C697.63,183.16 699.85,179.67 701.60,178.00C702.59,177.06 703.06,176.85 704.30,176.20C706.58,175.00 711.11,172.60 714.60,172.10C717.98,171.62 721.38,172.21 724.90,173.10C728.89,174.11 734.09,176.30 737.20,178.30C739.46,179.76 740.01,181.97 742.40,183.10C745.82,184.72 751.94,184.42 756.70,185.10C761.44,185.78 766.23,185.97 770.90,187.20C775.73,188.47 780.35,191.80 785.20,192.70C789.89,193.57 795.09,193.96 799.50,192.70C803.92,191.43 807.45,186.51 811.70,185.10C815.64,183.80 820.01,183.33 824.00,184.10C828.19,184.91 831.84,188.01 836.20,190.20C841.24,192.73 846.34,196.13 852.50,198.40C859.83,201.10 870.99,201.97 877.60,204.50C882.28,206.29 885.12,208.59 889.00,210.60C892.98,212.66 896.74,215.05 901.20,216.70C906.15,218.54 912.06,220.80 917.50,220.80C922.96,220.80 928.41,217.79 933.90,216.70C939.32,215.63 945.03,214.41 950.20,214.30C954.88,214.20 958.87,215.03 963.60,215.70C968.97,216.47 974.73,217.97 980.70,218.80C987.18,219.70 994.31,219.95 1001.10,220.80C1007.91,221.65 1014.70,222.88 1021.50,223.90C1028.30,224.92 1035.12,225.66 1041.90,226.90C1048.72,228.15 1055.68,230.00 1062.30,231.40C1068.56,232.72 1074.30,234.47 1080.60,235.10C1087.18,235.76 1094.58,234.98 1101.00,235.10C1106.74,235.21 1112.27,235.12 1117.30,235.70C1121.71,236.21 1125.43,236.80 1129.60,238.10C1134.24,239.55 1138.54,242.79 1143.80,244.30C1149.84,246.03 1157.41,246.53 1164.00,247.30C1170.26,248.04 1176.01,248.11 1182.40,248.90C1189.42,249.76 1197.43,250.72 1204.40,252.40C1210.95,253.98 1217.45,257.46 1223.10,258.50C1227.57,259.32 1230.90,259.19 1235.40,259.10C1240.90,258.99 1247.43,257.93 1253.70,257.50C1260.31,257.05 1267.91,256.22 1274.10,256.50C1279.30,256.73 1283.47,258.31 1288.40,258.50C1293.65,258.70 1299.27,257.50 1304.70,257.50C1310.13,257.50 1315.83,257.43 1321.00,258.50C1325.97,259.52 1330.40,262.35 1335.20,263.60C1339.90,264.83 1344.93,266.06 1349.50,266.00C1353.73,265.94 1357.68,264.81 1361.70,263.60C1365.86,262.34 1370.28,259.72 1374.00,258.50C1376.94,257.53 1379.11,256.62 1382.10,256.50C1385.74,256.36 1390.68,258.86 1394.30,258.50C1397.35,258.20 1399.64,257.06 1402.50,255.40C1406.34,253.17 1410.60,248.54 1414.70,245.30C1418.73,242.11 1423.14,238.43 1426.90,236.10C1429.82,234.29 1432.53,232.75 1435.10,232.00C1437.17,231.40 1439.03,231.60 1441.00,231.40L1441.00,379.40C1437.00,378.40 1432.66,378.22 1429.00,376.40C1425.24,374.53 1422.37,370.98 1418.80,368.20C1414.94,365.19 1410.76,361.76 1406.60,359.00C1402.59,356.34 1398.09,352.67 1394.30,351.90C1391.42,351.32 1389.06,352.64 1386.20,352.90C1383.00,353.19 1379.28,354.30 1376.00,353.50C1372.46,352.63 1369.48,348.85 1365.80,347.40C1362.03,345.92 1357.68,344.90 1353.60,344.80C1349.52,344.70 1345.35,345.80 1341.30,346.80C1337.18,347.82 1333.37,349.80 1329.10,350.90C1324.56,352.07 1320.00,353.19 1314.80,353.50C1308.64,353.87 1301.28,352.40 1294.50,352.30C1287.71,352.20 1280.90,352.62 1274.10,352.90C1267.30,353.18 1260.31,354.20 1253.70,354.00C1247.43,353.81 1241.32,351.86 1235.40,351.90C1229.81,351.94 1224.37,353.02 1219.10,354.00C1214.05,354.94 1209.83,356.63 1204.40,357.60C1197.84,358.77 1189.39,359.13 1182.40,360.10C1175.98,360.99 1170.11,362.08 1164.00,363.10C1157.94,364.11 1151.70,364.63 1145.90,366.20C1140.25,367.73 1134.68,370.59 1129.60,372.30C1125.24,373.77 1121.59,375.46 1117.30,376.00C1112.78,376.57 1108.20,375.51 1103.10,375.40C1097.14,375.27 1089.76,374.81 1083.70,375.40C1078.27,375.93 1073.54,377.09 1068.40,378.40C1063.02,379.77 1058.03,382.31 1052.10,383.50C1045.29,384.87 1036.79,384.77 1029.70,385.60C1023.26,386.36 1017.60,387.37 1011.30,388.20C1004.68,389.07 997.69,389.78 990.90,390.70C984.09,391.62 976.92,392.81 970.50,393.70C964.77,394.49 959.25,395.48 954.20,395.80C949.85,396.08 946.01,396.46 942.00,395.80C937.88,395.13 933.92,392.74 929.80,391.70C925.75,390.68 921.88,389.56 917.50,389.60C912.44,389.65 906.14,391.03 901.20,392.70C896.72,394.21 892.94,396.58 889.00,398.80C885.08,401.01 881.48,404.28 877.60,406.00C874.06,407.57 870.50,407.87 866.80,409.00C862.82,410.22 858.71,411.50 854.50,413.10C849.90,414.85 844.84,417.10 840.30,419.20C836.02,421.18 832.21,424.13 828.00,425.30C824.03,426.40 819.42,426.79 815.80,426.30C812.75,425.89 810.29,424.47 807.60,423.30C804.86,422.11 802.44,420.06 799.50,419.20C796.37,418.29 793.16,417.83 789.30,418.20C784.02,418.71 776.67,422.31 770.90,423.70C765.90,424.90 761.06,425.90 756.70,426.30C753.04,426.63 749.79,425.44 746.50,426.30C742.98,427.22 739.82,430.40 736.30,432.00C732.81,433.59 729.18,434.98 725.50,435.90C721.85,436.81 718.08,438.01 714.30,437.50C710.12,436.94 704.81,434.62 701.60,432.00C698.78,429.70 697.48,426.35 695.50,423.30C693.41,420.07 691.43,416.50 689.40,413.10C687.37,409.70 686.13,405.11 683.30,402.90C680.62,400.80 676.52,399.96 673.10,399.80C669.72,399.64 666.55,400.88 662.90,401.90C658.50,403.13 653.60,405.98 648.60,407.00C643.42,408.06 637.55,408.20 632.30,408.00C627.37,407.81 622.54,405.76 618.00,406.00C613.80,406.22 609.53,406.79 606.00,409.00C602.00,411.51 598.89,417.77 595.80,421.20C593.42,423.85 591.33,425.19 589.20,428.00C586.46,431.61 584.53,437.53 581.30,441.50C578.11,445.42 574.73,449.68 570.00,451.70C564.53,454.04 556.02,453.51 549.70,453.20C544.11,452.93 539.21,451.69 534.00,450.50C528.71,449.30 522.82,448.38 518.20,446.00C513.87,443.77 510.43,439.90 506.90,437.00C503.71,434.38 500.63,432.46 497.90,429.40C494.86,425.99 492.70,420.74 489.80,417.20C487.22,414.05 484.66,411.31 481.60,409.00C478.53,406.68 475.21,404.58 471.40,403.30C467.17,401.88 461.83,401.62 457.20,401.30C452.81,400.99 448.80,400.93 444.30,401.30C439.31,401.71 433.58,402.27 428.60,403.90C423.62,405.53 419.04,408.30 414.40,411.10C409.53,414.03 404.58,417.59 400.10,421.20C395.73,424.73 391.87,429.01 387.80,432.50C384.01,435.74 380.62,439.05 376.50,441.50C372.35,443.96 367.96,446.11 363.00,447.20C357.42,448.42 350.35,448.25 344.50,447.80C339.13,447.38 334.80,445.90 329.20,444.90C322.40,443.68 314.15,441.97 306.60,441.10C299.11,440.24 291.16,439.36 284.10,439.70C277.75,440.01 271.77,440.77 266.10,442.60C260.52,444.40 254.42,448.12 250.30,450.50C247.50,452.12 244.79,453.00 243.50,455.00C242.31,456.84 243.11,459.59 242.40,461.80C241.65,464.13 240.76,466.28 239.00,468.60C236.52,471.86 231.41,474.95 227.80,478.70C223.89,482.75 219.98,487.74 216.50,492.20C213.25,496.36 210.80,499.94 207.50,504.60C203.31,510.52 197.97,518.89 193.50,524.90C189.76,529.93 186.59,533.88 182.70,538.40C178.53,543.25 173.70,548.13 169.20,553.00L72.00,553.00Z" fill="#FF4D00"/>
<path d="M72.00,127.60C80.33,127.67 89.37,127.20 97.00,127.80C103.51,128.31 109.08,128.96 115.00,130.50C121.09,132.09 127.47,134.90 133.00,137.30C137.91,139.43 143.79,140.68 146.60,144.00C149.08,146.92 147.68,151.77 150.00,155.30C152.96,159.81 159.88,163.81 164.70,167.70C169.21,171.34 173.78,175.12 178.00,178.00C181.55,180.42 184.64,181.99 188.20,184.10C192.10,186.41 196.10,188.78 200.50,191.30C205.54,194.18 211.30,197.66 216.80,200.40C222.17,203.08 227.27,205.60 233.10,207.60C239.43,209.77 247.85,211.55 253.50,212.70C257.46,213.50 259.70,213.99 263.70,214.30C269.32,214.74 277.33,214.91 284.10,214.30C290.93,213.69 297.69,211.62 304.50,210.60C311.26,209.59 318.10,208.77 324.80,208.20C331.33,207.65 338.65,206.99 344.20,207.20C348.39,207.36 351.11,207.67 355.20,208.60C360.60,209.83 367.81,211.98 373.60,214.70C379.37,217.41 384.55,222.03 389.90,224.90C394.74,227.50 398.96,229.35 404.20,231.40C410.32,233.79 417.70,236.53 424.50,238.10C431.07,239.62 437.59,240.12 444.30,240.80C451.19,241.50 458.47,241.97 465.30,242.20C471.79,242.42 478.32,242.97 484.30,242.20C489.83,241.49 495.26,240.22 500.00,238.10C504.51,236.08 508.46,233.06 512.20,230.00C515.92,226.96 518.85,223.35 522.40,219.80C526.28,215.92 530.39,211.25 534.60,207.60C538.57,204.16 542.40,200.35 546.90,198.40C551.26,196.51 556.37,195.74 561.10,195.90C565.87,196.06 571.27,197.21 575.40,199.40C579.39,201.51 582.35,205.09 585.60,208.60C589.18,212.46 592.01,217.86 595.80,221.80C599.50,225.64 603.86,230.26 608.00,232.00C611.29,233.38 614.67,233.22 618.00,233.00C621.40,232.78 624.50,231.29 628.20,230.60C632.55,229.79 638.15,228.40 642.50,228.60C646.20,228.77 649.22,229.74 652.70,231.00C656.67,232.44 660.79,235.22 664.90,237.10C668.96,238.95 672.87,241.65 677.20,242.20C681.69,242.77 687.44,241.64 691.40,240.20C694.65,239.02 697.29,237.45 699.60,235.10C702.16,232.50 704.02,228.55 705.70,224.90C707.45,221.10 707.89,216.09 709.80,212.70C711.44,209.80 713.26,206.88 715.90,205.50C718.65,204.06 722.67,203.75 726.10,204.50C730.13,205.38 734.29,210.07 738.30,211.60C741.74,212.92 744.80,213.50 748.50,213.70C752.85,213.93 758.26,211.90 762.80,212.30C767.06,212.67 771.00,214.17 775.00,215.70C779.17,217.30 783.09,220.81 787.30,221.80C791.27,222.73 795.28,222.09 799.50,221.80C804.09,221.48 809.06,219.62 813.80,219.80C818.56,219.98 823.21,221.22 828.00,222.90C833.36,224.78 838.62,228.66 844.30,231.00C850.17,233.42 856.84,236.74 862.70,237.10C867.88,237.42 872.95,234.69 877.60,234.10C881.63,233.59 884.68,233.13 889.00,233.50C894.85,234.00 902.57,236.98 909.40,238.10C916.17,239.21 923.00,239.42 929.80,240.20C936.60,240.98 943.40,242.02 950.20,242.80C956.97,243.58 963.72,244.65 970.50,244.90C977.28,245.15 984.96,244.65 990.90,244.30C995.52,244.03 999.11,243.20 1003.20,243.20C1007.28,243.20 1011.23,243.38 1015.40,244.30C1020.04,245.32 1024.90,248.04 1029.70,249.40C1034.40,250.73 1039.01,251.27 1043.90,252.40C1049.18,253.62 1054.85,255.03 1060.30,256.50C1065.75,257.97 1072.25,260.33 1076.60,261.20C1079.42,261.76 1080.81,261.87 1083.70,262.00C1088.20,262.20 1095.33,262.03 1101.00,261.60C1106.53,261.18 1112.24,259.60 1117.30,259.50C1121.68,259.41 1125.23,260.00 1129.60,260.60C1134.67,261.29 1140.32,262.61 1145.90,263.60C1151.77,264.64 1157.92,266.30 1164.00,266.70C1170.09,267.10 1176.66,265.99 1182.40,266.00C1187.44,266.01 1191.74,265.89 1196.60,266.60C1201.88,267.37 1207.63,269.47 1212.90,270.70C1217.81,271.85 1222.25,273.27 1227.20,273.80C1232.43,274.36 1237.76,273.94 1243.50,273.80C1249.92,273.64 1257.10,272.97 1263.90,272.80C1270.70,272.63 1277.50,272.90 1284.30,272.80C1291.10,272.70 1298.77,272.51 1304.70,272.20C1309.29,271.96 1312.70,271.03 1316.90,271.30C1321.47,271.59 1326.36,273.19 1331.10,274.20C1335.86,275.22 1340.80,276.89 1345.40,277.40C1349.60,277.86 1353.25,277.67 1357.60,277.40C1362.65,277.09 1368.84,275.83 1373.90,275.40C1378.28,275.02 1382.11,274.90 1386.20,274.80C1390.27,274.70 1394.36,275.30 1398.40,274.80C1402.50,274.29 1407.08,273.38 1410.60,271.70C1413.77,270.19 1416.19,267.99 1418.80,265.60C1421.65,262.99 1424.45,259.51 1426.90,256.50C1429.14,253.75 1430.45,249.78 1433.00,248.30C1435.26,246.98 1438.33,247.63 1441.00,247.30L1441.00,363.10C1437.67,362.43 1433.40,362.70 1431.00,361.10C1428.96,359.74 1428.58,357.18 1426.90,355.00C1424.73,352.18 1422.03,348.45 1418.80,345.80C1415.34,342.95 1410.96,340.46 1406.60,338.70C1402.14,336.90 1397.10,335.54 1392.30,335.20C1387.56,334.86 1382.91,336.75 1378.00,336.60C1372.73,336.44 1367.15,334.50 1361.70,334.00C1356.28,333.50 1350.63,333.12 1345.40,333.60C1340.45,334.05 1336.17,335.69 1331.10,336.60C1325.39,337.62 1318.91,339.14 1312.80,339.30C1306.71,339.46 1300.77,337.81 1294.50,337.60C1287.89,337.37 1280.90,338.10 1274.10,338.10C1267.30,338.10 1260.31,337.86 1253.70,337.60C1247.43,337.35 1241.65,336.36 1235.40,336.60C1228.77,336.86 1220.89,338.09 1215.00,339.30C1210.38,340.25 1207.43,341.94 1202.80,342.70C1196.91,343.67 1189.02,343.44 1182.40,343.80C1176.11,344.14 1170.10,344.30 1164.00,344.80C1157.93,345.30 1151.74,345.75 1145.90,346.80C1140.29,347.81 1135.07,350.12 1129.60,350.90C1124.21,351.67 1118.55,351.62 1113.30,351.50C1108.37,351.38 1104.07,350.71 1099.00,350.30C1093.25,349.84 1086.31,348.52 1080.60,348.90C1075.53,349.24 1071.11,350.66 1066.40,351.90C1061.61,353.16 1057.42,354.89 1052.10,356.40C1045.49,358.28 1036.31,360.22 1029.70,362.10C1024.38,363.61 1020.88,365.80 1015.40,366.60C1008.40,367.62 998.69,366.45 990.90,366.20C983.79,365.97 977.28,364.87 970.50,365.20C963.71,365.53 956.98,367.35 950.20,368.20C943.42,369.05 936.59,369.45 929.80,370.30C922.99,371.15 916.19,372.22 909.40,373.30C902.59,374.38 894.83,376.15 889.00,376.80C884.67,377.28 881.31,377.87 877.60,377.40C873.91,376.93 870.38,374.30 866.80,374.00C863.38,373.71 860.29,374.26 856.60,375.40C851.69,376.91 845.77,381.00 840.30,383.50C834.91,385.96 829.15,389.18 824.00,390.30C819.70,391.23 816.08,390.91 811.70,390.70C806.64,390.46 800.19,388.42 795.40,388.60C791.59,388.74 788.83,389.57 785.20,390.70C780.77,392.09 775.75,395.45 770.90,396.80C766.24,398.10 761.27,398.67 756.70,398.80C752.46,398.92 748.46,397.46 744.40,397.80C740.30,398.14 736.25,399.72 732.20,400.90C728.11,402.09 723.62,405.15 720.00,404.90C716.95,404.69 714.05,403.14 711.80,400.90C709.04,398.16 707.70,392.79 705.70,388.60C703.64,384.29 702.34,378.61 699.60,375.40C697.34,372.76 694.68,371.06 691.40,369.90C687.46,368.50 682.00,367.86 677.20,368.60C671.85,369.42 665.92,373.11 660.90,375.40C656.48,377.42 652.81,380.40 648.60,381.50C644.63,382.53 640.26,382.49 636.40,382.10C632.82,381.74 629.41,380.32 626.20,379.50C623.32,378.76 620.73,377.74 618.00,377.40C615.36,377.07 612.77,376.56 610.10,377.40C606.75,378.45 602.94,381.67 599.90,384.50C596.78,387.41 594.42,391.30 591.70,394.70C588.99,398.10 586.65,401.84 583.60,404.90C580.55,407.97 577.02,411.42 573.40,413.10C570.17,414.60 566.74,415.18 563.20,415.10C559.31,415.01 555.00,413.56 551.00,412.10C546.82,410.57 542.65,408.58 538.70,406.00C534.45,403.23 530.31,399.29 526.50,395.80C522.87,392.48 519.70,389.00 516.30,385.60C512.90,382.20 509.90,378.14 506.10,375.40C502.41,372.74 498.39,370.58 493.90,369.30C488.98,367.90 483.05,367.98 477.60,367.80C472.15,367.62 466.70,367.79 461.20,368.20C455.60,368.62 449.83,369.60 444.30,370.30C438.97,370.97 433.66,371.25 428.60,372.30C423.71,373.31 419.12,374.88 414.40,376.40C409.62,377.94 404.59,379.42 400.10,381.50C395.77,383.51 392.13,386.16 387.90,388.60C383.33,391.24 378.79,394.48 373.60,396.80C367.97,399.32 360.61,401.93 355.20,402.90C351.12,403.63 348.38,403.44 344.20,403.30C338.64,403.12 331.32,402.20 324.80,401.30C318.09,400.38 311.12,398.62 304.50,397.80C298.23,397.02 292.40,396.64 286.10,396.40C279.48,396.15 272.49,396.00 265.70,396.40C258.89,396.80 252.03,397.40 245.30,398.80C238.46,400.22 231.31,402.40 225.00,404.90C219.13,407.23 214.06,410.38 208.60,413.10C203.16,415.81 196.93,418.43 192.30,421.20C188.58,423.42 186.35,425.23 182.70,428.00C177.58,431.88 170.38,437.91 164.70,442.60C159.53,446.88 152.97,450.36 150.00,455.00C147.57,458.79 149.18,464.25 146.60,467.40C143.80,470.82 138.01,472.21 133.10,474.20C127.61,476.42 121.16,478.41 115.10,479.80C109.13,481.17 103.54,481.92 97.00,482.50C89.36,483.17 80.33,482.97 72.00,483.20Z" fill="#E60000"/>
<path d="M72.00,287.50C72.31,287.19 72.55,287.63 73.10,287.50C75.10,287.03 81.41,282.63 86.30,281.00C91.81,279.16 98.24,278.05 104.70,277.50C111.77,276.90 120.02,277.45 127.10,277.90C133.52,278.31 140.42,277.84 145.40,279.90C149.60,281.64 151.73,285.78 155.60,288.10C159.81,290.63 167.73,291.44 169.90,294.20C171.27,295.94 170.89,298.22 170.90,300.30C170.92,302.48 170.05,305.02 169.90,307.00C169.78,308.56 169.76,309.74 169.90,311.20C170.06,312.82 171.50,314.97 170.90,316.30C170.26,317.72 167.84,318.30 165.80,319.30C163.02,320.66 158.90,321.62 155.60,323.40C152.09,325.30 149.52,328.87 145.40,330.50C140.37,332.49 133.53,332.73 127.10,333.20C120.03,333.72 111.31,333.82 104.70,333.20C99.37,332.70 94.39,332.05 90.40,330.50C87.15,329.23 85.11,326.58 82.20,325.40C79.34,324.24 74.67,323.57 73.10,323.40C72.56,323.34 72.31,323.71 72.00,323.40L72.00,287.50Z" fill="#800000"/>
<path d="M340.10,296.20C340.88,294.67 342.40,294.08 344.20,293.20C346.90,291.89 351.39,290.69 355.20,290.10C359.15,289.49 363.26,289.55 367.50,289.70C372.07,289.87 377.76,290.03 381.70,291.20C384.79,292.12 388.84,293.33 389.50,295.20C390.08,296.83 387.42,299.26 386.80,301.30C386.22,303.20 385.37,305.64 385.80,307.00C386.11,307.98 387.34,308.08 387.90,309.10C388.78,310.71 390.41,314.61 389.50,316.30C388.53,318.10 384.74,318.51 381.70,319.30C377.72,320.33 372.07,321.05 367.50,321.30C363.26,321.53 359.16,321.43 355.20,320.90C351.40,320.39 346.89,319.56 344.20,318.30C342.39,317.45 340.90,316.81 340.10,315.20C338.97,312.94 340.10,308.27 340.10,305.00C340.10,301.96 339.08,298.21 340.10,296.20Z" fill="#800000"/>
<path d="M568.30,256.50C570.06,256.29 571.86,258.08 573.40,259.60C575.35,261.52 577.32,264.37 578.50,267.70C580.05,272.06 581.04,279.54 580.50,284.00C580.11,287.26 578.94,289.81 577.40,292.20C575.87,294.57 571.97,296.11 571.30,298.30C570.75,300.10 572.49,302.00 572.40,304.00C572.29,306.27 569.84,309.01 570.30,311.20C570.77,313.46 573.66,315.39 575.40,317.30C577.06,319.12 579.72,319.92 580.50,322.40C581.71,326.27 578.80,334.75 577.40,339.70C576.29,343.61 575.22,347.42 573.40,349.90C571.99,351.82 569.86,354.27 568.30,354.00C566.40,353.68 564.82,349.09 563.20,345.80C561.02,341.38 558.73,334.32 557.10,329.50C555.82,325.73 554.24,322.88 554.00,319.30C553.74,315.44 556.11,310.08 556.00,307.10C555.93,305.36 554.75,304.17 555.00,303.00C555.23,301.94 556.92,301.51 557.10,300.30C557.39,298.38 554.26,294.75 554.00,292.20C553.78,290.03 554.42,288.69 555.00,286.00C556.12,280.83 558.10,268.73 561.10,263.60C563.08,260.22 566.01,256.77 568.30,256.50Z" fill="#800000"/>
<path d="M637.40,297.30C638.28,295.45 640.80,293.20 642.50,293.20C644.20,293.20 646.59,295.35 647.60,297.30C648.83,299.67 648.40,303.91 648.20,307.00C648.01,309.86 647.97,313.41 646.60,315.20C645.47,316.68 643.09,317.77 641.50,317.70C640.04,317.63 638.21,316.64 637.40,315.20C636.22,313.10 637.40,308.16 637.40,305.00C637.40,302.25 636.44,299.30 637.40,297.30Z" fill="#800000"/>
<path d="M742.40,294.20C743.45,292.27 747.62,291.46 750.60,291.20C754.01,290.90 759.63,290.61 761.80,293.20C764.82,296.81 763.30,311.07 761.80,315.20C761.10,317.14 760.27,318.17 758.70,318.90C756.42,319.96 751.13,320.08 748.50,318.90C746.22,317.88 744.18,315.58 743.40,313.20C742.50,310.44 744.61,306.26 744.40,303.00C744.21,299.94 741.33,296.17 742.40,294.20Z" fill="#800000"/>
<path d="M814.80,300.30C817.11,295.28 814.20,279.97 815.80,273.80C816.73,270.19 817.93,267.16 819.90,265.70C821.52,264.49 823.63,264.52 826.00,264.60C829.38,264.72 834.50,265.85 838.20,267.70C841.98,269.59 845.07,273.77 848.40,275.90C851.18,277.69 853.51,279.54 856.60,280.00C860.19,280.53 865.07,278.64 868.80,277.90C871.98,277.27 874.46,276.31 877.60,275.90C881.13,275.44 885.15,275.19 889.00,275.50C893.02,275.82 897.55,276.40 901.20,277.90C904.64,279.31 908.83,281.58 910.40,284.00C911.57,285.81 911.74,287.87 911.40,290.10C910.94,293.13 907.12,296.84 906.30,300.30C905.54,303.51 905.58,306.80 906.30,310.10C907.10,313.79 911.21,318.08 911.40,321.30C911.54,323.64 910.94,325.70 909.40,327.50C907.17,330.10 900.94,332.23 897.20,333.60C894.26,334.68 891.98,335.37 889.00,335.60C885.53,335.86 881.14,335.15 877.60,334.60C874.46,334.11 871.98,333.23 868.80,332.60C865.07,331.86 860.40,329.94 856.60,330.50C852.95,331.04 849.49,333.52 846.40,335.60C843.37,337.64 841.56,341.06 838.20,342.80C834.31,344.81 827.60,347.10 824.00,346.20C821.29,345.52 819.21,343.41 817.80,340.70C815.76,336.77 816.49,328.99 815.80,323.40C815.15,318.14 815.55,311.10 813.80,308.10C812.79,306.37 809.76,306.18 809.70,305.00C809.63,303.63 813.62,302.87 814.80,300.30Z" fill="#800000"/>
<path d="M1007.20,295.20C1007.86,293.97 1009.34,293.65 1011.30,293.20C1015.45,292.24 1027.74,291.95 1031.70,293.20C1033.56,293.79 1034.69,294.35 1035.40,295.80C1036.51,298.08 1034.75,303.68 1034.80,307.00C1034.84,309.67 1036.11,312.35 1035.40,314.20C1034.81,315.75 1033.65,316.92 1031.70,317.70C1027.79,319.26 1015.42,318.86 1011.30,317.70C1009.30,317.14 1007.51,316.31 1007.20,315.20C1006.90,314.13 1009.00,312.83 1009.30,311.20C1009.70,309.00 1008.65,305.70 1008.30,303.00C1007.95,300.37 1006.34,296.82 1007.20,295.20Z" fill="#800000"/>
<path d="M1102.00,294.20C1103.46,291.71 1107.56,290.21 1111.20,289.10C1115.74,287.72 1122.49,287.22 1127.50,287.70C1131.93,288.13 1136.70,289.62 1139.80,291.20C1142.01,292.32 1143.71,293.20 1144.90,295.20C1146.51,297.91 1147.09,303.13 1146.90,307.00C1146.71,310.83 1146.32,315.65 1143.80,318.30C1140.96,321.29 1134.56,322.29 1129.60,323.00C1124.42,323.74 1118.06,323.88 1113.30,322.40C1108.98,321.05 1103.84,318.55 1102.00,315.20C1100.25,312.00 1102.00,306.74 1102.00,303.00C1102.00,299.83 1100.66,296.47 1102.00,294.20Z" fill="#800000"/>
<path d="M1412.30,296.20C1412.34,294.96 1411.92,293.97 1412.70,293.10C1414.39,291.21 1422.16,290.72 1426.90,289.70C1431.60,288.69 1438.11,284.61 1441.00,287.00L1441.00,323.40C1439.61,324.45 1437.43,322.30 1435.10,321.70C1431.77,320.84 1426.82,319.85 1422.90,318.90C1419.24,318.01 1414.09,318.58 1412.30,316.20C1410.33,313.59 1412.75,306.68 1412.70,303.00C1412.66,300.36 1412.24,298.02 1412.30,296.20Z" fill="#800000"/>
<g fill="none" stroke="#808080" stroke-width="1"><path d="M72.00,57.00L919.10,57.00C920.47,59.07 921.16,61.69 923.20,63.20C925.64,65.00 929.67,65.66 933.40,66.20C937.72,66.82 943.38,65.56 947.70,66.20C951.43,66.75 955.11,67.91 957.90,69.30C960.13,70.41 961.24,71.80 963.40,73.30C966.38,75.38 970.37,78.52 974.20,80.50C978.04,82.49 982.29,84.89 986.40,85.20C990.42,85.50 994.69,82.93 998.60,82.50C1002.13,82.11 1005.42,82.16 1008.80,82.50C1012.22,82.85 1015.64,83.75 1019.00,84.60C1022.37,85.45 1025.64,86.68 1029.00,87.60C1032.37,88.52 1035.27,89.71 1039.20,90.10C1044.40,90.61 1051.87,89.84 1057.60,89.30C1062.68,88.82 1067.54,87.78 1071.90,87.20C1075.55,86.71 1078.65,85.78 1082.00,86.00C1085.41,86.22 1088.84,87.50 1092.20,88.60C1095.64,89.72 1098.82,91.39 1102.40,92.70C1106.29,94.13 1110.75,96.43 1114.70,96.80C1118.22,97.13 1121.50,95.40 1124.90,95.40C1128.30,95.40 1131.82,95.64 1135.10,96.80C1138.61,98.04 1142.00,101.02 1145.20,102.90C1148.07,104.59 1150.07,106.45 1153.40,107.60C1157.80,109.12 1164.28,109.09 1169.70,110.00C1175.14,110.92 1180.58,111.90 1186.00,113.10C1191.45,114.30 1197.91,115.33 1202.30,117.20C1205.63,118.61 1207.72,120.83 1210.50,122.30C1213.16,123.71 1215.54,125.19 1218.60,125.90C1222.20,126.74 1226.89,126.51 1230.90,126.40C1234.75,126.29 1238.35,125.58 1242.20,125.30C1246.21,125.01 1250.43,124.36 1254.50,124.70C1258.60,125.05 1262.33,126.57 1266.70,127.40C1271.73,128.36 1277.73,129.80 1283.00,130.00C1287.91,130.18 1292.54,129.07 1297.30,128.80C1302.04,128.53 1307.20,127.84 1311.50,128.40C1315.22,128.88 1318.43,129.82 1321.70,131.40C1325.25,133.12 1328.54,137.07 1331.90,138.60C1334.66,139.86 1337.36,140.44 1340.10,140.60C1342.79,140.76 1345.62,140.63 1348.20,139.60C1351.09,138.44 1353.27,135.28 1356.40,133.50C1359.96,131.47 1364.87,129.24 1368.60,128.40C1371.54,127.74 1374.13,127.53 1376.80,128.00C1379.56,128.49 1382.19,130.25 1384.90,131.40C1387.63,132.55 1390.32,134.40 1393.10,134.90C1395.75,135.37 1398.31,135.26 1401.20,134.50C1404.95,133.52 1409.32,130.43 1413.40,128.40C1417.49,126.36 1421.99,123.92 1425.70,122.30C1428.65,121.01 1431.14,119.50 1433.80,119.20C1436.23,118.92 1438.60,119.87 1441.00,120.20"/><path d="M72.00,553.00L919.80,553.00C920.50,551.10 920.38,548.60 921.90,547.30C923.88,545.61 928.03,545.79 932.00,545.30C937.56,544.62 946.62,545.88 952.20,544.30C956.62,543.05 959.58,540.76 963.30,538.20C967.64,535.22 972.01,528.96 976.40,527.10C979.79,525.67 982.62,526.10 986.60,526.10C992.19,526.10 999.94,528.54 1006.80,528.10C1014.06,527.64 1023.44,524.46 1029.00,523.00C1032.38,522.11 1033.75,520.97 1037.10,520.60C1042.28,520.03 1050.13,521.38 1057.30,522.00C1065.49,522.70 1076.25,525.50 1083.60,524.70C1089.13,524.10 1092.93,521.71 1097.80,520.00C1103.04,518.16 1108.58,514.72 1114.00,514.00C1119.15,513.32 1124.84,515.81 1129.50,515.40C1133.43,515.06 1136.56,514.28 1140.20,512.50C1144.81,510.24 1149.29,503.78 1154.40,501.80C1159.14,499.97 1164.24,501.01 1169.60,500.40C1175.63,499.71 1182.73,499.16 1188.80,497.80C1194.49,496.53 1199.90,494.94 1205.00,492.70C1209.99,490.51 1214.05,486.02 1219.10,484.60C1224.15,483.19 1231.06,484.00 1235.30,484.20C1238.06,484.33 1239.35,484.69 1242.10,485.00C1246.34,485.47 1253.33,487.17 1258.30,486.70C1262.70,486.28 1266.25,483.94 1270.50,483.00C1274.99,482.01 1279.73,481.16 1284.60,481.00C1289.80,480.83 1295.40,481.93 1300.80,482.20C1306.20,482.47 1312.38,483.81 1317.00,482.60C1320.93,481.57 1323.96,478.64 1327.10,476.60C1329.99,474.73 1332.05,471.81 1335.20,470.90C1338.68,469.89 1343.57,470.37 1347.30,471.50C1351.00,472.62 1353.74,475.77 1357.50,477.60C1361.74,479.66 1367.02,482.68 1371.60,483.00C1375.77,483.29 1379.99,481.51 1383.80,480.20C1387.39,478.97 1390.49,475.74 1393.90,475.50C1397.22,475.27 1400.51,477.35 1404.00,478.60C1407.88,479.99 1412.28,481.85 1416.10,483.60C1419.65,485.23 1423.00,487.18 1426.20,488.70C1429.03,490.04 1431.70,492.13 1434.30,492.30C1436.61,492.45 1438.77,490.97 1441.00,490.30"/><path d="M72.00,57.00L840.60,57.00C840.97,60.40 840.10,64.63 841.70,67.20C843.25,69.68 846.97,71.37 849.80,72.30C852.42,73.16 855.18,73.40 858.00,72.90C861.29,72.32 865.17,70.41 868.20,68.30C871.28,66.16 874.95,62.32 876.30,60.10C877.02,58.92 876.97,58.03 877.30,57.00L896.70,57.00C898.07,59.07 899.14,60.92 900.80,63.20C902.99,66.20 906.10,70.18 908.90,73.30C911.55,76.25 914.66,78.67 917.10,81.50C919.39,84.15 920.50,88.00 923.20,89.70C925.92,91.42 929.59,91.61 933.40,91.70C938.19,91.81 944.51,89.23 949.70,89.30C954.47,89.36 959.26,90.06 963.40,91.70C967.39,93.28 970.55,96.89 974.20,98.80C977.56,100.56 980.64,102.31 984.40,102.90C988.67,103.57 994.26,102.27 998.60,101.90C1002.28,101.59 1005.41,100.74 1008.80,100.90C1012.21,101.06 1015.63,102.12 1019.00,102.90C1022.36,103.68 1025.34,105.01 1029.00,105.60C1033.31,106.29 1038.53,106.27 1043.30,106.40C1048.06,106.53 1052.84,106.63 1057.60,106.40C1062.37,106.17 1067.32,105.36 1071.90,105.00C1076.12,104.67 1080.26,103.81 1084.10,104.30C1087.70,104.76 1090.76,106.38 1094.30,107.60C1098.20,108.95 1102.37,111.19 1106.50,112.10C1110.51,112.99 1114.81,113.06 1118.70,113.10C1122.25,113.14 1125.36,112.23 1128.90,112.50C1132.83,112.79 1137.17,113.84 1141.20,115.10C1145.34,116.39 1148.98,118.73 1153.40,120.20C1158.38,121.86 1164.24,123.26 1169.70,124.30C1175.10,125.32 1180.62,125.22 1186.00,126.40C1191.49,127.60 1197.89,129.50 1202.30,131.50C1205.61,133.00 1207.30,134.97 1210.50,136.50C1214.53,138.42 1220.33,141.04 1224.80,141.60C1228.54,142.07 1232.17,141.17 1235.40,140.60C1238.19,140.11 1240.22,139.09 1243.10,138.60C1246.68,137.99 1251.24,137.34 1255.30,137.60C1259.41,137.86 1263.50,139.41 1267.60,140.20C1271.67,140.98 1275.72,142.07 1279.80,142.30C1283.85,142.53 1287.46,141.85 1292.00,141.60C1297.74,141.29 1306.09,139.94 1311.50,140.60C1315.50,141.09 1319.10,141.84 1321.70,143.70C1324.06,145.39 1325.61,148.08 1326.80,150.80C1328.10,153.77 1327.39,158.53 1328.90,161.00C1330.09,162.95 1331.85,164.22 1334.00,165.10C1336.67,166.19 1341.02,166.82 1344.10,166.10C1347.11,165.40 1350.29,163.66 1352.30,161.00C1354.79,157.70 1354.22,150.06 1356.40,146.70C1358.00,144.25 1360.02,142.70 1362.50,141.60C1365.32,140.35 1369.31,140.04 1372.70,140.20C1376.12,140.36 1380.11,141.03 1382.90,142.60C1385.44,144.03 1387.33,146.36 1389.00,148.80C1390.79,151.41 1391.71,157.75 1393.10,157.90C1394.09,158.01 1395.31,155.61 1396.10,153.90C1397.19,151.55 1396.27,146.90 1398.20,144.70C1400.37,142.23 1405.58,141.94 1409.40,140.60C1413.37,139.21 1417.53,137.85 1421.60,136.50C1425.66,135.15 1430.23,133.07 1433.80,132.50C1436.48,132.07 1438.60,132.50 1441.00,132.50"/><path d="M72.00,553.00L841.00,553.00C841.00,549.77 839.50,545.74 841.00,543.30C842.62,540.67 847.64,538.85 851.10,538.20C854.38,537.59 857.98,538.00 861.20,539.20C864.75,540.52 868.47,543.80 871.30,546.30C873.73,548.44 875.37,550.77 877.40,553.00L899.60,553.00C900.93,549.77 901.54,546.37 903.60,543.30C906.01,539.71 910.26,536.73 913.80,533.20C917.67,529.33 921.26,523.13 925.90,521.00C930.10,519.07 935.30,519.84 940.00,520.00C944.73,520.16 950.03,522.37 954.20,522.00C957.61,521.69 960.09,520.50 963.30,519.00C967.38,517.10 972.18,512.78 976.40,510.90C979.90,509.34 982.67,508.25 986.60,507.90C991.76,507.44 999.36,510.05 1004.80,509.90C1009.25,509.78 1012.88,508.74 1016.90,507.90C1020.95,507.05 1024.52,505.49 1029.00,504.80C1034.41,503.97 1040.97,503.82 1047.20,503.80C1053.76,503.78 1061.04,504.31 1067.40,504.80C1073.10,505.24 1078.41,506.89 1083.60,506.50C1088.52,506.13 1092.93,504.19 1097.80,502.80C1103.04,501.31 1108.60,498.44 1114.00,497.80C1119.17,497.19 1124.81,498.87 1129.50,498.80C1133.40,498.74 1136.64,498.94 1140.20,497.80C1144.28,496.49 1147.84,492.58 1152.40,490.70C1157.51,488.59 1163.66,487.22 1169.60,486.20C1175.78,485.14 1182.97,485.86 1188.80,484.60C1193.94,483.49 1198.13,481.77 1202.90,479.60C1208.21,477.19 1214.19,472.05 1219.10,470.50C1222.73,469.36 1225.77,469.45 1229.20,469.50C1232.77,469.55 1236.38,470.27 1240.10,470.90C1244.07,471.58 1248.23,473.41 1252.30,473.50C1256.33,473.59 1259.96,472.23 1264.40,471.50C1269.85,470.60 1276.52,468.73 1282.60,468.50C1288.65,468.27 1294.91,469.95 1300.80,470.10C1306.35,470.24 1312.62,470.63 1317.00,469.50C1320.27,468.65 1323.25,467.67 1325.10,465.40C1327.18,462.84 1327.42,457.61 1328.10,454.30C1328.63,451.69 1327.65,448.82 1329.10,447.20C1330.85,445.25 1335.81,444.76 1339.20,444.60C1342.57,444.44 1346.92,444.92 1349.40,446.20C1351.25,447.15 1352.42,448.44 1353.40,450.30C1354.71,452.79 1353.98,457.50 1355.40,460.40C1356.75,463.15 1358.92,465.73 1361.50,467.40C1364.25,469.18 1368.21,470.33 1371.60,470.50C1374.95,470.67 1378.71,469.62 1381.70,468.50C1384.37,467.50 1387.43,466.50 1388.80,464.40C1390.25,462.18 1388.73,457.29 1389.80,455.30C1390.51,453.97 1391.77,452.77 1392.90,452.70C1394.12,452.63 1396.13,453.87 1396.90,455.30C1397.97,457.27 1395.49,462.21 1396.90,464.40C1398.38,466.69 1402.50,467.07 1406.00,468.50C1410.60,470.39 1417.45,472.66 1422.20,474.50C1425.98,475.96 1429.00,478.15 1432.30,478.60C1435.26,479.00 1438.10,477.93 1441.00,477.60"/><path d="M72.00,57.00L610.90,57.00C611.93,60.43 612.53,63.95 614.00,67.30C615.55,70.83 617.49,75.16 620.10,77.60C622.39,79.73 625.33,81.15 628.30,81.70C631.46,82.29 635.32,81.91 638.60,80.70C642.22,79.37 645.52,76.04 648.90,73.50C652.35,70.91 656.64,68.33 659.10,65.30C661.17,62.74 661.90,59.77 663.30,57.00L741.30,57.00C742.67,58.40 743.73,60.24 745.40,61.20C747.14,62.21 749.62,62.55 751.60,62.80C753.37,63.02 755.04,63.31 756.70,62.80C758.59,62.22 760.25,60.07 762.20,59.10C764.12,58.14 766.27,57.70 768.30,57.00L823.30,57.00C823.63,61.10 822.82,65.83 824.30,69.30C825.69,72.55 828.99,74.72 831.50,77.40C834.09,80.16 836.88,82.88 839.60,85.60C842.32,88.32 844.90,91.61 847.80,93.70C850.37,95.55 853.12,97.31 855.90,97.80C858.56,98.27 861.54,97.95 864.10,96.80C867.02,95.49 869.81,92.06 872.20,89.70C874.31,87.63 875.48,84.93 877.80,83.50C880.21,82.01 883.48,81.16 886.50,81.10C889.76,81.04 893.53,81.73 896.70,83.50C900.42,85.57 903.50,90.30 906.90,93.70C910.30,97.10 913.57,100.92 917.10,103.90C920.39,106.67 923.72,110.17 927.30,111.10C930.55,111.94 933.96,110.54 937.50,110.00C941.40,109.41 945.51,107.64 949.70,107.60C954.13,107.55 959.22,108.49 963.40,110.00C967.35,111.43 970.58,114.54 974.20,116.20C977.58,117.75 980.66,119.32 984.40,119.80C988.69,120.35 994.25,118.87 998.60,118.60C1002.28,118.37 1005.40,118.10 1008.80,118.20C1012.20,118.30 1015.63,118.68 1019.00,119.20C1022.36,119.72 1025.84,120.58 1029.00,121.30C1031.87,121.95 1034.30,122.95 1037.20,123.30C1040.39,123.68 1043.61,123.46 1047.40,123.30C1052.20,123.09 1058.67,122.47 1063.70,121.90C1068.07,121.41 1072.01,120.55 1075.90,120.20C1079.44,119.88 1082.75,119.31 1086.10,119.80C1089.55,120.31 1092.77,121.96 1096.30,123.30C1100.21,124.79 1104.55,127.28 1108.50,128.40C1111.99,129.39 1115.13,129.81 1118.70,130.00C1122.60,130.21 1127.10,129.30 1131.00,129.40C1134.56,129.49 1137.69,129.65 1141.20,130.40C1145.13,131.24 1149.04,133.21 1153.40,134.50C1158.33,135.96 1163.90,137.59 1169.30,138.60C1174.76,139.63 1181.13,139.81 1186.00,140.60C1189.83,141.22 1193.37,141.34 1196.20,142.70C1198.67,143.89 1200.79,145.60 1202.30,147.80C1203.96,150.22 1203.80,154.62 1205.40,156.90C1206.72,158.78 1208.33,159.65 1210.50,161.00C1213.61,162.94 1218.49,165.50 1222.70,166.70C1226.80,167.87 1231.25,168.32 1235.40,168.20C1239.41,168.08 1243.62,166.42 1247.20,166.10C1250.14,165.84 1252.33,165.85 1255.30,166.10C1258.99,166.41 1263.34,167.63 1267.60,168.20C1272.15,168.81 1277.57,169.73 1281.80,169.60C1285.23,169.49 1287.66,168.55 1291.10,168.10C1295.35,167.55 1300.86,166.29 1305.40,166.70C1309.67,167.09 1314.03,168.62 1317.60,170.20C1320.71,171.58 1323.04,173.70 1325.80,175.30C1328.51,176.87 1330.89,178.92 1334.00,179.70C1337.57,180.60 1342.46,180.79 1346.20,179.70C1349.92,178.61 1352.91,174.99 1356.40,173.20C1359.72,171.49 1363.37,170.22 1366.60,169.10C1369.43,168.11 1371.85,166.64 1374.70,166.70C1377.91,166.77 1381.69,169.06 1384.90,170.20C1387.79,171.22 1390.38,173.21 1393.10,173.20C1395.81,173.19 1398.26,171.48 1401.20,170.20C1404.89,168.58 1409.59,166.28 1413.40,164.00C1417.03,161.83 1421.55,160.12 1423.60,156.90C1425.65,153.68 1423.60,147.09 1425.70,144.70C1427.44,142.72 1431.15,142.60 1433.80,142.20C1436.24,141.83 1438.60,142.20 1441.00,142.20"/><path d="M72.00,553.00L610.60,553.00C612.10,548.13 612.67,542.44 615.10,538.40C617.32,534.71 620.59,530.93 624.10,529.40C627.41,527.96 631.72,528.30 635.40,529.00C639.23,529.73 643.07,531.49 646.60,533.90C650.63,536.65 655.14,541.61 657.90,545.20C659.97,547.90 660.90,550.40 662.40,553.00L741.30,553.00C743.57,551.77 745.64,550.15 748.10,549.30C750.66,548.42 753.95,547.49 756.40,547.90C758.55,548.26 760.36,550.09 762.10,551.00C763.54,551.75 764.77,552.33 766.10,553.00L823.80,553.00C824.13,549.07 823.44,545.27 824.80,541.20C826.52,536.05 830.98,529.59 834.90,525.10C838.47,521.01 842.92,517.21 847.00,515.00C850.34,513.19 853.94,511.79 857.10,511.90C859.97,512.00 862.37,513.35 865.20,515.00C869.03,517.23 873.61,522.74 877.40,525.10C880.22,526.86 882.51,528.31 885.40,528.70C888.54,529.12 892.45,528.70 895.60,527.10C899.31,525.21 902.02,520.56 905.70,517.00C909.98,512.86 914.98,506.90 919.80,503.80C923.78,501.24 927.74,499.04 932.00,498.80C936.49,498.55 941.14,502.54 946.10,502.80C951.52,503.08 958.06,501.45 963.30,499.80C968.07,498.30 972.04,495.24 976.40,493.70C980.47,492.27 984.10,491.00 988.60,490.70C994.03,490.34 1000.44,492.78 1006.80,492.70C1013.84,492.61 1021.96,490.45 1029.00,489.70C1035.36,489.03 1040.97,488.32 1047.20,488.30C1053.76,488.28 1061.05,489.09 1067.40,489.70C1073.11,490.25 1078.42,492.09 1083.60,491.70C1088.53,491.33 1092.67,489.27 1097.80,487.70C1103.96,485.81 1112.14,481.95 1118.00,481.00C1122.31,480.30 1125.20,481.16 1129.50,481.00C1135.00,480.80 1141.93,480.93 1148.30,479.60C1155.27,478.14 1162.59,473.68 1169.60,472.10C1176.08,470.64 1183.18,471.24 1188.80,470.10C1193.35,469.18 1198.39,468.74 1200.90,466.40C1202.98,464.46 1203.31,460.70 1204.00,458.30C1204.53,456.46 1203.84,454.91 1205.00,453.30C1207.07,450.42 1214.08,447.12 1219.10,445.20C1224.17,443.27 1230.02,441.75 1235.30,441.80C1240.38,441.84 1245.11,445.03 1250.20,445.20C1255.47,445.37 1260.99,443.38 1266.40,442.60C1271.79,441.82 1277.38,440.45 1282.60,440.50C1287.49,440.54 1292.47,441.94 1296.80,442.60C1300.45,443.16 1303.39,444.27 1306.90,444.20C1310.76,444.13 1315.54,443.44 1319.00,441.80C1322.19,440.28 1324.29,436.94 1327.10,435.10C1329.71,433.39 1332.13,431.73 1335.20,431.00C1338.74,430.15 1343.79,429.99 1347.30,431.00C1350.42,431.90 1352.67,434.50 1355.40,436.10C1358.08,437.67 1360.59,439.25 1363.50,440.50C1366.62,441.85 1370.23,443.85 1373.60,443.80C1377.00,443.75 1380.39,441.22 1383.80,440.10C1387.16,438.99 1390.56,436.95 1393.90,437.10C1397.29,437.25 1400.92,439.37 1404.00,441.10C1406.97,442.77 1409.23,445.11 1412.10,447.20C1415.26,449.50 1419.67,452.17 1422.20,454.30C1423.92,455.74 1425.34,456.50 1426.20,458.30C1427.30,460.58 1425.34,465.64 1427.20,467.40C1429.49,469.56 1436.40,467.87 1441.00,468.10"/><path d="M72.00,57.00L601.20,57.00C600.67,60.43 599.65,64.06 599.60,67.30C599.55,70.19 599.62,72.59 600.60,75.50C601.89,79.33 605.16,84.06 607.80,87.90C610.32,91.57 613.23,94.81 616.00,98.10C618.70,101.30 621.19,105.32 624.20,107.40C626.73,109.15 629.47,110.21 632.40,110.50C635.60,110.82 639.24,110.10 642.70,108.80C646.77,107.28 651.03,104.20 655.00,101.20C659.28,97.97 663.32,93.80 667.40,89.90C671.55,85.93 675.46,81.27 679.70,77.60C683.68,74.15 688.06,71.25 692.00,68.40C695.56,65.82 698.91,62.66 702.30,61.20C705.06,60.01 707.81,59.20 710.50,59.50C713.28,59.81 716.35,61.33 718.70,63.20C721.21,65.20 722.38,68.80 724.90,71.40C727.75,74.34 731.65,77.42 735.20,79.70C738.50,81.82 741.81,83.78 745.40,84.80C748.98,85.81 752.51,85.76 756.70,85.80C761.94,85.85 768.62,84.99 774.40,84.60C779.95,84.22 785.67,84.08 790.70,83.50C795.07,83.00 799.07,81.08 802.90,81.50C806.51,81.90 809.83,83.70 813.10,85.60C816.66,87.67 819.84,90.60 823.30,93.70C827.29,97.27 831.56,102.26 835.50,106.00C839.00,109.32 841.91,112.79 845.70,115.10C849.42,117.37 854.04,119.38 858.00,119.80C861.51,120.17 865.04,119.65 868.20,118.20C871.69,116.59 874.53,112.09 877.80,110.00C880.65,108.18 883.41,106.52 886.50,106.00C889.70,105.46 893.39,106.04 896.70,107.00C900.20,108.01 903.61,110.00 906.90,112.10C910.42,114.34 913.49,117.56 917.10,120.20C920.93,123.00 925.55,126.32 929.30,128.40C932.23,130.03 934.43,131.71 937.50,132.10C941.10,132.56 945.50,130.24 949.70,130.00C954.12,129.75 958.77,130.10 963.40,130.80C968.30,131.54 972.91,133.71 978.30,134.50C984.50,135.41 991.82,135.43 998.60,135.50C1005.39,135.57 1013.41,134.65 1019.00,134.90C1022.93,135.08 1025.38,135.57 1029.00,136.10C1033.35,136.74 1038.09,138.28 1043.30,138.60C1049.48,138.98 1056.95,137.77 1063.70,137.60C1070.35,137.44 1077.63,137.14 1083.50,137.60C1088.25,137.97 1091.95,138.64 1096.30,139.60C1100.97,140.63 1106.98,141.78 1110.60,143.70C1113.25,145.10 1115.55,146.78 1116.70,148.80C1117.72,150.58 1116.66,153.36 1117.70,154.90C1118.72,156.41 1120.56,157.29 1122.80,158.00C1126.27,159.10 1132.18,158.53 1137.10,159.00C1142.36,159.51 1148.08,159.67 1153.40,161.00C1158.82,162.35 1163.90,165.24 1169.30,167.10C1174.77,168.98 1180.47,170.49 1186.00,172.20C1191.47,173.89 1197.85,175.50 1202.30,177.30C1205.56,178.62 1207.04,180.40 1210.50,181.40C1215.67,182.89 1224.09,183.23 1230.90,183.40C1237.69,183.57 1244.51,182.40 1251.30,182.40C1258.07,182.40 1265.15,183.30 1271.60,183.40C1277.46,183.49 1282.85,183.39 1288.40,183.10C1293.88,182.82 1299.31,181.20 1304.70,181.70C1310.18,182.20 1316.37,184.02 1321.00,186.20C1324.95,188.07 1328.60,190.95 1331.10,193.30C1332.92,195.01 1333.23,197.34 1335.20,198.40C1337.66,199.73 1342.94,200.43 1345.40,199.40C1347.37,198.57 1347.67,196.01 1349.50,194.30C1352.02,191.95 1355.75,189.27 1359.70,187.20C1364.37,184.75 1371.21,181.06 1376.00,181.10C1379.80,181.13 1383.03,183.68 1386.20,185.10C1389.09,186.39 1391.32,189.19 1394.30,189.20C1397.97,189.22 1402.97,185.13 1406.60,183.10C1409.63,181.40 1411.81,178.96 1414.70,178.00C1417.49,177.07 1420.64,178.24 1423.60,177.30C1427.01,176.21 1430.58,172.19 1433.80,171.20C1436.31,170.43 1438.60,170.93 1441.00,170.80"/><path d="M72.00,553.00L600.40,553.00C600.03,548.13 598.48,543.25 599.30,538.40C600.18,533.15 603.31,527.34 606.10,522.70C608.66,518.43 611.77,514.94 615.10,511.40C618.52,507.76 622.57,502.95 626.40,501.20C629.36,499.85 632.27,499.83 635.40,500.10C638.96,500.41 642.99,501.75 646.60,503.50C650.52,505.40 654.11,508.22 657.90,511.40C662.36,515.14 666.89,520.40 671.40,524.90C675.92,529.40 680.38,534.19 685.00,538.40C689.42,542.43 693.90,547.61 698.50,549.70C702.20,551.39 706.39,552.29 709.80,551.50C713.14,550.73 715.90,547.63 718.80,545.20C721.92,542.58 724.34,539.04 727.80,536.20C731.71,532.99 736.46,529.15 741.30,527.20C746.01,525.31 751.14,524.73 756.40,524.50C762.07,524.25 768.08,525.52 774.20,526.10C780.72,526.72 788.51,527.66 794.40,528.10C798.97,528.44 802.78,529.26 806.60,528.70C810.18,528.17 813.54,527.10 816.70,525.10C820.34,522.80 823.36,518.73 826.80,515.00C830.73,510.74 834.76,504.32 838.90,500.80C842.20,498.00 845.55,496.40 849.00,494.70C852.32,493.06 855.76,491.01 859.20,490.70C862.53,490.40 866.33,491.11 869.30,492.70C872.44,494.37 874.32,498.77 877.40,500.80C880.40,502.77 883.68,504.43 887.50,504.80C892.19,505.25 898.82,503.89 903.60,501.80C908.21,499.78 911.99,495.82 915.80,492.70C919.40,489.75 922.32,485.82 925.90,483.60C929.10,481.62 932.42,480.13 936.00,479.60C939.79,479.04 943.84,480.28 948.10,480.60C952.88,480.95 958.50,482.34 963.30,481.60C967.91,480.89 972.05,477.69 976.40,476.50C980.48,475.38 984.12,474.67 988.60,474.50C994.05,474.30 1000.43,476.05 1006.80,476.10C1013.83,476.16 1021.99,475.33 1029.00,474.50C1035.39,473.75 1040.95,471.92 1047.20,471.50C1053.74,471.06 1061.04,471.73 1067.40,472.10C1073.10,472.43 1078.40,473.82 1083.60,473.50C1088.51,473.20 1093.10,471.68 1097.80,470.50C1102.53,469.31 1108.75,468.24 1111.90,466.40C1113.87,465.25 1115.14,464.10 1116.00,462.40C1116.96,460.50 1115.66,456.72 1117.00,455.30C1118.35,453.88 1121.25,454.36 1124.10,453.90C1128.37,453.21 1134.83,452.58 1140.20,451.90C1145.59,451.22 1151.38,451.23 1156.40,449.80C1161.13,448.45 1164.99,445.56 1169.60,443.80C1174.41,441.97 1179.71,440.40 1184.70,439.10C1189.48,437.85 1194.68,437.69 1198.90,436.10C1202.67,434.67 1205.55,431.88 1209.00,430.40C1212.29,428.99 1215.29,427.99 1219.10,427.30C1223.84,426.44 1229.81,426.26 1235.40,426.30C1241.33,426.34 1247.43,427.68 1253.70,427.70C1260.31,427.73 1267.30,426.37 1274.10,426.30C1280.90,426.23 1287.71,427.30 1294.50,427.30C1301.27,427.30 1309.24,427.27 1314.80,426.30C1318.83,425.60 1322.24,425.00 1325.00,423.20C1327.59,421.51 1329.28,418.29 1331.10,416.10C1332.62,414.27 1333.15,411.98 1335.20,411.00C1338.01,409.65 1344.74,409.51 1347.50,411.00C1349.63,412.15 1349.62,415.15 1351.50,417.10C1353.96,419.65 1358.02,422.27 1361.70,424.30C1365.50,426.40 1369.91,429.41 1374.00,429.40C1378.08,429.39 1382.54,425.77 1386.20,424.30C1389.17,423.11 1391.35,421.06 1394.30,421.20C1398.01,421.38 1402.76,425.40 1406.60,427.30C1409.97,428.97 1413.06,430.48 1416.10,432.00C1418.91,433.41 1421.50,434.75 1424.20,436.10C1426.90,437.45 1429.48,439.27 1432.30,440.10C1435.08,440.92 1438.10,440.77 1441.00,441.10"/><path d="M72.00,57.00L405.40,57.00C408.33,60.77 411.15,64.21 414.20,68.30C417.71,73.00 421.84,78.47 425.20,83.70C428.46,88.78 431.36,95.10 434.10,99.20C436.05,102.10 437.00,105.03 439.60,106.30C442.63,107.78 448.82,108.00 451.80,106.30C454.60,104.70 455.38,100.53 457.30,97.00C459.73,92.53 463.14,86.56 465.00,81.50C466.65,77.01 468.15,71.97 468.30,68.30C468.41,65.70 466.92,63.58 467.20,61.60C467.45,59.88 468.67,58.53 469.40,57.00L584.20,57.00C583.83,61.13 582.93,65.29 583.10,69.40C583.27,73.52 583.53,77.97 585.20,81.70C586.91,85.53 590.56,88.24 593.40,92.00C596.69,96.36 600.86,101.68 603.70,106.40C606.20,110.56 607.46,114.68 609.80,118.70C612.23,122.88 614.89,128.46 618.10,131.00C620.57,132.95 623.26,133.93 626.30,134.10C629.96,134.31 634.27,132.48 638.60,131.00C643.74,129.24 649.56,126.35 655.00,123.80C660.52,121.22 666.53,118.66 671.50,115.60C676.04,112.81 679.70,109.48 683.80,106.40C687.90,103.31 691.84,99.54 696.10,97.10C700.06,94.83 704.42,92.40 708.40,92.00C711.93,91.64 715.34,92.85 718.70,94.00C722.22,95.20 725.60,97.34 729.00,99.20C732.47,101.10 735.81,103.58 739.30,105.30C742.65,106.95 746.34,108.65 749.50,109.40C752.06,110.01 753.77,110.01 756.70,110.00C761.30,109.98 768.63,109.08 774.40,108.40C779.95,107.74 785.43,106.57 790.70,106.00C795.61,105.47 800.46,104.54 805.00,105.00C809.27,105.43 813.33,106.41 817.20,108.40C821.51,110.61 825.34,114.88 829.40,118.20C833.50,121.55 837.31,125.36 841.70,128.40C846.14,131.47 851.19,134.81 855.90,136.50C860.02,137.97 864.41,139.05 868.20,138.60C871.66,138.19 874.80,136.32 877.80,134.50C880.91,132.62 883.28,128.93 886.50,127.40C889.60,125.93 893.20,124.96 896.70,125.30C900.64,125.68 904.93,128.27 908.90,130.40C913.10,132.65 917.48,135.75 921.20,138.60C924.58,141.20 928.74,143.47 930.40,146.70C931.91,149.66 929.88,154.68 931.40,156.90C932.64,158.72 935.04,159.26 937.50,160.00C940.80,160.99 945.51,161.22 949.70,161.40C954.13,161.59 958.74,160.91 963.40,161.00C968.26,161.09 972.95,161.82 978.30,162.00C984.54,162.21 991.83,161.90 998.60,162.00C1005.39,162.10 1013.40,162.38 1019.00,162.60C1022.92,162.76 1025.20,162.49 1029.00,163.10C1034.25,163.95 1041.05,167.34 1047.40,168.20C1053.97,169.09 1061.45,168.00 1067.80,168.20C1073.38,168.38 1077.91,168.49 1083.50,169.20C1090.02,170.02 1097.23,171.90 1104.50,173.20C1112.32,174.60 1121.61,175.77 1128.90,177.30C1134.91,178.56 1139.57,179.97 1145.20,181.40C1151.24,182.93 1157.74,184.89 1164.00,186.20C1170.14,187.48 1176.16,187.76 1182.40,189.20C1189.07,190.73 1196.88,193.42 1202.80,195.30C1207.40,196.76 1210.35,198.40 1215.00,199.40C1220.87,200.66 1228.79,201.44 1235.40,201.40C1241.67,201.37 1246.81,199.55 1253.70,199.40C1262.59,199.21 1274.28,200.88 1284.30,201.40C1293.97,201.90 1305.44,200.61 1312.80,202.50C1317.89,203.81 1321.58,205.84 1325.00,208.60C1328.35,211.30 1330.24,216.16 1333.20,218.80C1335.73,221.06 1338.56,223.11 1341.30,223.90C1343.67,224.58 1346.55,225.05 1348.50,223.90C1350.86,222.51 1351.35,217.69 1353.60,214.70C1356.24,211.20 1360.00,207.24 1363.80,204.50C1367.49,201.84 1372.08,198.56 1376.00,198.40C1379.52,198.26 1383.06,200.91 1386.20,202.50C1389.12,203.98 1391.30,207.46 1394.30,207.50C1397.96,207.55 1402.55,202.91 1406.60,200.40C1410.72,197.85 1414.98,195.10 1418.80,192.30C1422.42,189.65 1425.22,185.79 1429.00,184.10C1432.65,182.47 1437.00,182.77 1441.00,182.10"/><path d="M72.00,553.00L403.60,553.00C405.73,550.33 408.05,547.56 410.00,545.00C411.74,542.72 413.20,541.08 414.80,538.40C416.97,534.77 418.61,529.46 421.30,524.90C424.36,519.71 429.48,512.68 432.50,509.10C434.23,507.05 434.93,505.50 437.00,504.60C439.76,503.40 444.91,503.70 448.30,504.20C451.21,504.63 454.33,504.96 456.20,506.90C458.42,509.20 458.07,514.33 459.60,518.20C461.33,522.57 464.93,526.53 466.30,531.70C467.93,537.85 467.10,545.90 467.50,553.00L584.70,553.00C584.30,547.40 582.47,541.36 583.50,536.20C584.48,531.31 587.62,527.46 590.30,522.70C593.48,517.04 598.44,510.26 601.60,504.60C604.26,499.84 606.29,495.14 608.30,491.10C609.95,487.80 610.53,484.28 612.80,482.10C615.07,479.92 618.63,478.60 621.90,478.00C625.37,477.37 629.24,477.95 633.10,478.70C637.44,479.54 641.96,481.43 646.60,483.20C651.70,485.14 657.10,487.08 662.40,490.00C668.39,493.30 675.25,498.50 680.50,502.40C684.75,505.55 687.64,508.79 691.70,511.40C695.86,514.08 700.78,517.15 705.20,518.20C709.02,519.11 712.68,519.11 716.50,518.20C720.92,517.15 725.57,513.97 730.00,511.40C734.61,508.73 738.94,504.27 743.60,502.40C747.76,500.73 752.66,500.26 756.40,500.10C759.28,499.97 761.07,500.44 764.10,500.80C768.51,501.33 774.47,502.41 780.30,503.20C787.11,504.12 796.21,506.06 802.50,505.90C807.18,505.78 811.05,505.57 814.70,503.80C818.52,501.94 821.20,498.12 824.80,494.70C829.16,490.56 834.08,484.07 838.90,480.60C842.89,477.73 846.96,476.03 851.10,474.50C855.06,473.04 859.34,471.59 863.20,471.50C866.71,471.42 870.29,472.02 873.30,473.50C876.38,475.01 878.39,478.69 881.40,480.60C884.45,482.53 887.90,484.46 891.50,485.00C895.28,485.56 899.72,485.02 903.60,483.60C907.85,482.04 911.65,478.50 915.80,475.50C920.40,472.17 927.60,468.54 929.90,464.40C931.63,461.28 929.27,456.60 931.00,454.30C932.69,452.05 936.72,451.59 940.00,450.60C943.71,449.48 948.21,448.41 952.20,448.20C955.97,448.00 959.45,449.17 963.30,449.20C967.48,449.23 971.55,448.50 976.40,448.20C982.43,447.82 989.94,447.30 996.70,447.20C1003.44,447.10 1011.03,447.64 1016.90,447.60C1021.45,447.57 1024.58,447.68 1029.00,447.20C1034.47,446.60 1040.95,444.57 1047.20,443.80C1053.73,443.00 1061.04,442.95 1067.40,442.60C1073.10,442.29 1077.68,442.51 1083.60,441.80C1090.91,440.92 1100.02,438.41 1107.90,437.10C1115.30,435.87 1123.26,435.29 1129.50,434.10C1134.35,433.18 1138.15,432.14 1142.30,431.00C1146.30,429.90 1150.25,428.56 1154.00,427.40C1157.46,426.33 1160.13,425.22 1164.00,424.30C1169.17,423.07 1176.12,422.36 1182.40,421.20C1189.03,419.97 1196.95,418.89 1202.80,417.10C1207.47,415.67 1210.88,413.36 1215.00,412.00C1219.02,410.68 1222.80,409.53 1227.20,409.00C1232.21,408.39 1237.77,408.72 1243.50,409.00C1249.93,409.31 1257.10,411.00 1263.90,411.00C1270.70,411.00 1277.49,409.33 1284.30,409.00C1291.09,408.67 1298.77,409.24 1304.70,409.00C1309.29,408.81 1313.45,409.48 1316.90,408.00C1320.15,406.61 1322.64,403.52 1325.00,400.80C1327.38,398.06 1328.79,393.88 1331.10,391.60C1332.98,389.74 1334.86,388.40 1337.30,387.60C1340.18,386.66 1344.82,385.62 1347.50,387.00C1350.34,388.46 1351.14,394.00 1353.60,396.70C1355.92,399.24 1358.98,400.85 1361.70,402.90C1364.42,404.95 1367.06,407.46 1369.90,409.00C1372.51,410.42 1375.36,412.27 1378.00,412.00C1380.80,411.72 1383.64,408.32 1386.20,406.90C1388.35,405.71 1390.16,403.79 1392.30,403.90C1394.84,404.03 1397.43,407.09 1400.40,409.00C1404.08,411.37 1408.38,414.59 1412.70,417.10C1417.19,419.71 1422.06,422.59 1426.90,424.30C1431.50,425.93 1436.30,426.30 1441.00,427.30"/><path d="M72.00,57.00L305.50,57.00C305.50,59.33 304.63,61.68 305.50,64.00C306.64,67.03 310.18,70.93 313.40,73.00C316.59,75.05 320.35,75.81 324.70,76.40C330.33,77.17 338.01,76.07 344.50,76.00C350.77,75.94 358.31,75.63 363.00,76.00C365.90,76.23 367.41,76.64 370.00,77.10C373.26,77.68 377.44,77.93 381.00,79.30C384.82,80.77 388.89,83.51 392.10,85.90C394.91,87.99 396.87,89.87 399.40,92.60C402.70,96.16 406.56,101.32 409.80,105.80C412.95,110.16 415.65,114.68 418.60,119.10C421.55,123.51 424.46,128.15 427.50,132.30C430.37,136.22 433.67,140.27 436.30,143.40C438.31,145.80 439.62,148.62 441.80,149.60C443.76,150.48 446.43,150.65 448.50,149.60C451.39,148.13 453.81,142.63 456.20,139.00C458.57,135.40 460.77,132.13 462.80,127.90C465.25,122.78 467.11,115.87 469.40,110.20C471.56,104.86 473.89,99.95 476.10,94.80C478.32,89.65 480.21,83.92 482.70,79.30C484.91,75.21 487.50,70.98 490.00,68.30C491.83,66.34 493.17,65.17 495.60,64.00C499.02,62.35 504.86,60.90 509.20,60.60C513.09,60.33 516.43,60.77 520.40,61.80C525.30,63.07 531.27,65.57 536.20,68.50C541.25,71.50 545.57,75.97 550.30,79.70C555.07,83.47 559.76,87.06 564.70,91.00C570.01,95.23 576.13,99.82 581.10,104.30C585.61,108.36 590.01,111.89 593.40,116.60C596.89,121.45 599.12,127.77 601.60,133.10C603.88,138.01 606.03,142.76 607.80,147.40C609.42,151.64 609.31,157.05 611.90,159.80C614.29,162.34 618.30,163.41 622.20,163.90C626.97,164.50 633.16,162.82 638.60,161.80C644.10,160.76 650.15,158.78 655.00,157.70C658.82,156.85 663.23,157.75 665.30,155.70C667.37,153.65 665.36,148.07 667.40,145.40C669.74,142.34 675.74,141.79 679.70,139.20C683.96,136.41 687.90,132.41 692.00,129.00C696.10,125.58 700.17,121.07 704.30,118.70C707.71,116.74 711.12,115.33 714.60,115.00C717.99,114.68 721.58,115.40 724.90,116.60C728.46,117.89 731.81,120.59 735.20,122.80C738.65,125.05 741.75,128.28 745.40,130.00C748.93,131.67 752.47,132.60 756.70,133.10C761.90,133.71 768.63,132.97 774.40,132.50C779.96,132.05 785.00,131.48 790.70,130.40C797.15,129.18 805.48,125.16 811.10,125.30C815.10,125.40 817.99,126.41 821.30,128.40C825.51,130.93 829.42,137.42 833.50,140.60C836.89,143.24 841.94,143.99 843.70,146.70C845.17,148.96 843.26,152.44 844.70,154.90C846.57,158.09 852.04,160.42 855.90,163.10C859.87,165.86 864.18,169.76 868.20,171.20C871.45,172.36 874.61,172.86 877.80,172.20C881.41,171.45 884.86,168.09 888.60,166.10C892.52,164.02 896.83,160.54 900.80,160.00C904.27,159.53 907.74,160.61 911.00,162.00C914.57,163.53 917.56,167.02 921.20,169.20C925.00,171.48 929.09,173.62 933.40,175.30C937.90,177.05 942.79,178.23 947.70,179.40C952.78,180.61 958.02,182.09 963.40,182.40C969.01,182.72 974.55,181.54 980.70,181.10C987.71,180.60 995.39,179.74 1003.20,179.60C1011.67,179.45 1020.43,179.59 1029.70,180.40C1040.03,181.30 1052.57,183.69 1062.30,185.10C1070.18,186.24 1076.27,186.92 1083.70,188.20C1091.85,189.60 1101.16,191.91 1109.20,193.30C1116.36,194.54 1122.82,195.12 1129.60,196.30C1136.39,197.48 1143.80,198.69 1149.90,200.40C1155.09,201.85 1158.94,204.03 1164.00,205.50C1169.68,207.15 1176.09,208.43 1182.40,209.60C1189.00,210.82 1196.60,210.32 1202.80,212.60C1208.79,214.80 1213.59,219.70 1219.10,222.80C1224.46,225.82 1229.72,230.59 1235.40,231.00C1241.24,231.42 1247.35,225.87 1253.70,224.90C1260.23,223.91 1267.30,225.23 1274.10,225.30C1280.90,225.37 1288.09,225.57 1294.50,225.30C1300.24,225.05 1305.79,223.51 1310.80,223.90C1315.19,224.24 1319.08,225.17 1323.00,226.90C1327.24,228.78 1331.33,232.45 1335.20,235.10C1338.76,237.54 1341.92,241.95 1345.40,242.20C1348.73,242.44 1352.61,239.51 1355.60,237.10C1358.80,234.52 1360.68,229.81 1363.80,226.90C1366.84,224.07 1370.64,220.63 1374.00,219.80C1376.72,219.13 1379.29,220.08 1382.10,220.80C1385.36,221.64 1389.00,225.29 1392.30,224.90C1395.82,224.49 1398.97,220.27 1402.50,217.70C1406.40,214.87 1410.60,211.51 1414.70,208.60C1418.73,205.74 1422.48,202.10 1426.90,200.40C1431.25,198.73 1436.30,199.07 1441.00,198.40"/><path d="M72.00,553.00L305.50,553.00C305.13,550.40 303.51,547.59 304.40,545.20C305.49,542.25 309.97,538.98 313.40,537.30C316.76,535.65 320.39,535.52 324.70,535.10C330.36,534.55 338.01,535.10 344.50,535.10C350.77,535.10 356.92,535.86 363.00,535.10C369.09,534.33 375.61,532.90 381.00,530.50C386.03,528.26 390.21,525.16 394.50,521.50C399.25,517.45 404.01,511.52 408.00,506.90C411.41,502.95 414.80,499.29 417.10,495.60C419.00,492.55 419.37,489.92 421.30,486.60C424.00,481.96 429.14,475.10 432.50,470.80C434.97,467.65 436.56,464.58 439.30,462.90C441.88,461.32 445.64,460.09 448.30,460.70C450.89,461.29 452.73,464.15 455.10,466.30C457.95,468.89 461.59,471.59 464.10,475.30C467.02,479.61 468.80,485.30 470.90,491.10C473.36,497.87 475.23,506.55 477.60,513.60C479.75,520.00 481.34,526.20 484.40,531.70C487.38,537.07 491.37,543.10 495.60,546.30C499.04,548.90 503.07,550.26 506.90,550.80C510.60,551.33 514.07,550.65 518.20,549.70C523.58,548.46 530.71,546.04 536.20,543.00C541.59,540.01 545.85,535.66 550.90,531.70C556.36,527.42 562.31,522.76 567.80,518.20C573.18,513.73 578.76,508.99 583.50,504.60C587.65,500.76 591.60,498.05 594.80,493.40C598.59,487.91 601.26,478.49 603.80,473.10C605.51,469.47 607.33,467.51 608.30,464.10C609.42,460.13 607.48,453.28 609.50,450.50C611.09,448.31 614.39,447.79 617.30,447.20C620.66,446.52 624.87,446.67 628.60,447.20C632.41,447.74 635.37,449.43 639.90,450.50C646.53,452.07 660.77,451.20 664.70,455.00C667.23,457.45 664.95,462.93 666.90,465.20C668.78,467.38 672.93,466.69 675.90,468.60C679.72,471.05 683.44,476.05 687.20,479.80C690.97,483.55 694.02,488.47 698.50,491.10C703.04,493.77 709.04,495.60 714.30,495.60C719.54,495.60 725.15,493.49 730.00,491.10C734.94,488.66 738.93,483.36 743.60,481.00C747.75,478.90 752.39,477.61 756.40,477.10C759.82,476.66 762.56,477.43 766.10,477.50C770.38,477.59 775.62,476.83 780.30,477.50C785.06,478.18 789.68,480.35 794.40,481.60C799.11,482.85 804.03,484.73 808.60,485.00C812.77,485.25 816.76,485.31 820.70,483.60C825.58,481.48 830.84,475.01 834.90,471.50C837.99,468.83 841.52,467.25 843.00,464.40C844.37,461.78 842.84,457.74 844.00,455.30C845.02,453.14 846.78,452.01 849.00,450.20C852.42,447.42 858.28,443.12 863.20,441.10C867.77,439.23 873.12,437.72 877.40,438.10C881.11,438.43 884.30,440.20 887.50,442.20C891.07,444.44 893.95,450.12 897.60,451.30C900.76,452.32 904.30,451.31 907.70,450.20C911.69,448.89 915.72,445.40 919.80,443.20C923.83,441.03 927.73,438.93 932.00,437.10C936.48,435.18 941.76,433.30 946.10,432.00C949.71,430.92 953.11,430.09 956.20,429.60C958.76,429.19 960.57,429.01 963.30,429.00C967.00,428.98 972.11,429.66 976.40,430.00C980.54,430.33 984.12,430.89 988.60,431.00C994.06,431.13 1000.43,430.56 1006.80,430.40C1013.83,430.22 1021.54,430.49 1029.00,430.00C1036.64,429.50 1044.66,428.56 1052.10,427.40C1059.14,426.30 1065.67,424.15 1072.50,423.30C1079.27,422.46 1086.13,423.14 1092.90,422.30C1099.73,421.45 1106.88,419.46 1113.30,418.20C1119.03,417.08 1124.21,416.45 1129.60,415.10C1135.07,413.73 1140.31,411.66 1145.90,410.00C1151.76,408.26 1157.90,406.27 1164.00,404.90C1170.07,403.54 1176.10,402.79 1182.40,401.80C1189.02,400.76 1197.08,401.01 1202.80,398.80C1207.63,396.93 1210.89,393.17 1215.00,390.60C1219.03,388.08 1223.48,385.37 1227.20,383.50C1230.15,382.02 1232.38,380.08 1235.40,380.00C1239.05,379.91 1243.17,383.48 1247.60,384.50C1252.57,385.64 1258.16,386.04 1263.90,386.10C1270.32,386.16 1277.50,384.42 1284.30,384.50C1291.10,384.58 1298.29,386.68 1304.70,386.60C1310.44,386.53 1316.44,386.44 1321.00,384.50C1325.05,382.78 1327.69,378.97 1331.10,376.40C1334.45,373.88 1337.92,370.03 1341.30,369.20C1344.05,368.53 1346.97,369.05 1349.50,370.30C1352.48,371.77 1354.89,375.69 1357.60,378.40C1360.32,381.12 1362.71,384.39 1365.80,386.60C1368.85,388.78 1372.52,391.14 1376.00,391.60C1379.33,392.04 1383.06,390.68 1386.20,389.60C1389.13,388.59 1391.70,385.17 1394.30,385.50C1397.15,385.86 1399.34,390.57 1402.50,392.70C1406.03,395.08 1410.70,396.49 1414.70,398.80C1418.84,401.20 1422.52,404.87 1426.90,406.90C1431.29,408.94 1436.30,409.63 1441.00,411.00"/><path d="M72.00,57.00L250.30,57.00C250.30,58.60 250.53,59.97 250.30,61.80C249.98,64.35 247.81,67.32 248.00,70.80C248.28,75.81 251.90,82.94 254.80,88.80C257.84,94.95 261.30,102.03 266.00,106.80C270.44,111.30 276.04,114.73 281.90,117.00C287.99,119.36 294.78,120.24 302.00,120.40C310.37,120.58 321.45,118.24 329.20,117.00C335.05,116.06 339.14,114.84 344.50,114.00C350.36,113.08 358.31,111.71 363.00,111.80C365.89,111.85 367.30,112.39 370.00,112.90C373.74,113.60 379.32,113.76 383.30,115.80C387.45,117.93 391.37,121.84 394.30,125.70C397.24,129.57 398.75,134.38 400.90,139.00C403.19,143.92 404.97,149.56 407.60,154.40C410.16,159.11 412.96,163.95 416.40,167.70C419.65,171.24 423.46,174.10 427.50,176.50C431.56,178.91 436.66,181.14 440.70,182.10C443.89,182.86 446.36,182.93 449.60,182.70C453.59,182.42 458.75,181.66 462.80,179.90C466.86,178.13 471.30,175.38 473.90,172.10C476.33,169.03 477.22,165.28 478.30,161.10C479.62,155.97 479.05,148.18 480.50,143.40C481.57,139.85 483.30,137.75 484.90,134.60C486.78,130.90 488.10,126.13 491.10,122.60C494.46,118.65 499.77,113.74 504.70,112.50C509.38,111.32 514.68,113.80 519.80,114.70C525.17,115.65 530.92,117.26 536.20,118.10C541.06,118.88 545.42,119.11 550.30,119.70C555.56,120.34 561.78,120.12 566.70,121.80C571.27,123.36 575.32,125.89 579.00,129.00C582.91,132.30 586.72,136.79 589.30,141.30C591.82,145.71 592.68,150.91 594.40,155.70C596.12,160.48 597.46,166.00 599.60,170.00C601.36,173.29 603.36,176.43 605.70,178.30C607.63,179.84 609.99,180.28 612.10,181.10C614.09,181.87 615.73,182.84 618.00,183.10C620.91,183.43 624.52,182.50 628.20,182.10C632.57,181.63 637.73,180.40 642.50,180.40C647.27,180.40 652.04,181.65 656.80,182.10C661.54,182.55 667.35,184.06 671.00,183.10C673.63,182.41 675.11,180.91 677.20,179.00C680.08,176.37 682.95,171.76 686.00,168.00C689.24,164.00 693.38,160.17 696.10,155.70C698.80,151.26 698.83,144.57 702.30,141.30C705.73,138.07 711.84,135.69 716.70,136.10C722.09,136.56 728.99,141.07 733.10,145.40C737.15,149.67 737.17,158.20 741.30,161.80C745.19,165.19 752.13,166.47 756.70,167.00C760.20,167.41 762.73,165.89 766.20,166.10C770.50,166.36 775.71,168.69 780.50,169.20C785.24,169.71 790.88,170.51 794.80,169.20C798.10,168.10 799.95,164.92 802.90,163.10C806.02,161.17 809.62,158.47 813.10,158.00C816.42,157.55 819.92,158.49 823.30,160.00C827.40,161.83 831.17,166.36 835.50,169.20C839.99,172.14 844.90,174.97 849.80,177.30C854.64,179.60 859.91,181.22 864.70,183.10C869.16,184.85 873.47,186.36 877.60,188.20C881.56,189.97 884.86,192.86 889.00,193.90C893.39,195.00 898.46,195.11 903.30,194.30C908.64,193.41 913.79,188.66 919.60,188.20C925.95,187.69 932.98,190.69 940.00,192.30C947.60,194.05 956.32,197.04 963.60,198.40C969.72,199.54 974.26,200.25 980.70,200.40C989.01,200.59 1000.58,198.19 1009.30,198.40C1016.68,198.57 1022.75,199.82 1029.70,200.80C1037.00,201.83 1045.28,202.88 1052.10,204.50C1058.02,205.91 1063.02,208.15 1068.40,209.60C1073.55,210.99 1078.26,212.54 1083.70,213.10C1089.75,213.72 1097.66,212.76 1103.10,212.70C1107.04,212.66 1109.52,212.36 1113.30,212.70C1118.12,213.14 1124.23,214.21 1129.60,215.70C1135.10,217.22 1140.28,219.96 1145.90,221.80C1151.74,223.71 1157.90,225.53 1164.00,226.90C1170.07,228.26 1176.43,229.32 1182.40,230.00C1187.98,230.64 1193.85,229.37 1198.70,231.00C1203.29,232.54 1206.72,236.87 1210.90,239.10C1214.87,241.22 1218.94,243.26 1223.10,244.20C1227.11,245.11 1230.90,244.89 1235.40,244.80C1240.90,244.69 1247.43,243.54 1253.70,243.20C1260.31,242.85 1266.61,242.95 1274.10,242.80C1283.27,242.62 1296.12,241.48 1304.70,242.20C1311.01,242.73 1316.06,243.63 1321.00,245.30C1325.48,246.81 1329.05,249.87 1333.20,251.40C1337.19,252.87 1341.31,254.07 1345.40,254.40C1349.44,254.72 1354.10,254.72 1357.60,253.40C1360.80,252.19 1362.90,249.39 1365.80,247.30C1369.00,245.00 1372.64,241.03 1376.00,240.20C1378.72,239.53 1381.43,240.56 1384.10,241.20C1386.86,241.87 1389.51,244.56 1392.30,244.20C1395.62,243.77 1399.04,239.87 1402.50,237.10C1406.49,233.90 1410.50,229.20 1414.70,225.90C1418.65,222.79 1422.49,219.57 1426.90,217.70C1431.27,215.85 1436.30,215.70 1441.00,214.70"/><path d="M72.00,553.00L250.30,553.00C249.53,548.13 247.48,543.45 248.00,538.40C248.59,532.64 251.84,526.14 254.80,520.40C257.84,514.50 261.66,507.93 266.10,503.50C270.06,499.54 274.27,496.62 279.60,494.50C285.93,491.99 294.24,490.81 302.10,490.70C310.70,490.58 321.45,493.40 329.20,494.50C335.02,495.33 339.15,495.98 344.50,496.70C350.37,497.49 356.91,499.37 363.00,499.00C369.08,498.63 375.82,497.58 381.00,494.50C386.38,491.30 390.85,484.18 394.50,479.80C397.25,476.51 399.24,474.37 401.30,470.80C403.84,466.40 405.67,460.02 408.00,455.00C410.18,450.29 412.27,444.34 414.80,441.50C416.42,439.68 418.09,439.39 420.00,438.10C422.39,436.48 424.88,434.04 428.00,432.50C431.67,430.68 436.81,429.16 440.90,428.40C444.46,427.74 447.72,427.63 451.10,427.80C454.48,427.97 458.22,428.16 461.20,429.40C464.02,430.57 466.33,432.57 468.60,434.80C471.11,437.27 473.53,440.50 475.40,443.80C477.33,447.21 478.79,451.02 479.90,455.00C481.08,459.25 480.67,464.18 482.10,468.60C483.60,473.23 486.04,477.76 488.90,482.10C491.98,486.78 495.99,492.81 500.20,495.60C503.64,497.87 507.32,498.83 511.40,499.00C516.19,499.20 521.38,496.64 527.20,495.60C534.28,494.33 543.20,493.35 550.90,492.20C558.22,491.11 566.21,491.28 572.30,488.90C577.58,486.83 582.22,483.62 585.80,479.80C589.31,476.06 592.29,470.48 593.70,466.30C594.77,463.12 594.62,460.31 594.80,457.30C594.98,454.31 593.95,451.35 594.80,448.30C595.83,444.61 599.13,440.15 601.60,437.00C603.69,434.33 605.63,431.90 608.30,430.30C611.06,428.65 614.42,427.67 618.00,427.40C622.27,427.08 627.52,429.00 632.30,429.40C637.06,429.80 641.84,430.06 646.60,429.80C651.38,429.53 656.31,428.01 660.90,427.80C665.12,427.61 669.72,427.05 673.10,428.40C676.12,429.61 678.03,432.24 680.50,434.80C683.49,437.90 686.75,442.45 689.50,446.00C691.93,449.14 695.48,452.06 696.20,455.00C696.76,457.30 694.50,459.44 695.10,461.80C695.92,465.03 699.70,469.75 703.00,472.00C706.16,474.15 710.35,475.21 714.30,475.30C718.59,475.40 724.44,474.60 727.80,472.00C731.19,469.38 732.56,463.57 734.50,459.60C736.23,456.07 736.67,451.98 739.00,449.40C741.26,446.90 744.73,445.15 748.10,444.20C751.69,443.18 756.71,443.48 760.00,443.80C762.39,444.03 763.72,445.22 766.10,445.20C769.47,445.17 774.23,443.05 778.30,442.20C782.33,441.36 786.63,439.54 790.40,440.10C794.01,440.64 797.20,443.22 800.50,445.20C803.94,447.26 807.26,451.01 810.60,452.30C813.32,453.35 815.86,453.97 818.70,453.30C822.49,452.40 826.79,448.03 830.80,445.20C834.90,442.30 838.83,438.68 843.00,436.10C846.94,433.66 851.23,431.48 855.10,430.00C858.42,428.73 861.28,428.41 864.70,427.40C868.69,426.22 873.30,424.90 877.60,423.30C882.06,421.65 886.78,419.00 891.00,417.60C894.58,416.41 898.01,414.91 901.20,415.10C904.11,415.28 906.69,417.10 909.40,418.20C912.12,419.30 914.45,421.18 917.50,421.70C921.11,422.31 925.44,421.44 929.80,420.80C934.88,420.06 940.59,418.61 946.10,417.20C951.85,415.73 958.43,413.49 963.60,412.10C967.68,411.01 970.55,409.68 974.60,409.40C979.47,409.07 985.16,410.66 990.90,411.10C997.31,411.59 1004.68,412.31 1011.30,412.10C1017.60,411.90 1023.28,410.94 1029.70,410.00C1036.82,408.96 1045.27,407.67 1052.10,406.00C1058.01,404.55 1063.02,402.28 1068.40,400.90C1073.55,399.58 1078.14,398.36 1083.70,397.80C1090.21,397.15 1098.96,397.80 1105.10,397.80C1109.73,397.80 1113.23,398.03 1117.30,397.80C1121.40,397.57 1125.27,397.39 1129.60,396.40C1134.71,395.23 1140.35,392.77 1145.90,390.70C1151.80,388.50 1157.85,385.22 1164.00,383.50C1170.02,381.82 1176.09,381.24 1182.40,380.40C1189.01,379.52 1197.08,380.44 1202.80,378.40C1207.64,376.68 1211.25,372.23 1215.00,370.30C1217.89,368.81 1220.06,367.89 1223.10,367.20C1226.72,366.38 1230.89,366.19 1235.40,366.20C1240.90,366.22 1247.43,367.46 1253.70,367.80C1260.31,368.15 1267.30,368.20 1274.10,368.20C1280.90,368.20 1288.32,367.56 1294.50,367.80C1299.67,368.00 1303.82,369.40 1308.70,369.20C1313.96,368.98 1320.33,367.96 1325.00,366.20C1328.95,364.71 1331.72,361.75 1335.20,360.10C1338.53,358.52 1341.96,356.73 1345.40,356.40C1348.76,356.08 1352.31,356.81 1355.60,358.00C1359.13,359.28 1362.39,362.13 1365.80,364.10C1369.19,366.06 1372.48,368.99 1376.00,369.80C1379.29,370.56 1383.02,369.68 1386.20,369.20C1389.08,368.76 1391.68,366.78 1394.30,367.20C1397.12,367.65 1399.58,370.18 1402.50,372.30C1406.25,375.02 1410.63,379.10 1414.70,382.50C1418.77,385.90 1422.41,390.33 1426.90,392.70C1431.21,394.98 1436.30,395.37 1441.00,396.70"/><path d="M72.00,57.00L169.20,57.00C175.20,63.83 182.71,72.53 187.20,77.50C189.81,80.40 191.15,81.23 193.50,84.30C197.47,89.50 202.99,100.02 207.50,106.80C211.35,112.59 214.61,117.56 218.70,122.60C222.86,127.73 228.14,133.24 232.30,137.30C235.52,140.44 239.44,141.96 241.30,145.20C243.12,148.36 241.72,153.71 243.50,156.40C245.01,158.68 247.40,159.41 250.30,161.00C254.78,163.46 262.38,167.14 268.30,168.80C273.63,170.30 278.36,170.73 284.10,171.00C290.93,171.32 299.13,170.92 306.60,170.00C314.16,169.07 322.39,166.69 329.20,165.40C334.79,164.34 339.49,163.14 344.50,162.70C349.25,162.28 354.15,161.80 358.50,162.70C362.62,163.56 366.20,166.11 370.00,167.70C373.70,169.24 377.47,170.04 381.00,172.10C384.87,174.36 388.38,177.78 392.10,181.00C396.11,184.47 399.80,189.06 404.20,192.30C408.57,195.52 413.62,197.84 418.40,200.40C423.13,202.94 428.07,206.07 432.70,207.60C436.67,208.91 440.32,209.26 444.30,209.60C448.47,209.96 452.67,210.03 457.20,209.60C462.34,209.12 468.60,208.33 473.50,206.50C478.02,204.81 482.22,202.24 485.70,199.40C488.95,196.75 491.71,192.94 493.90,190.20C495.54,188.15 496.27,187.03 497.90,184.60C500.76,180.33 504.13,170.75 509.20,166.60C514.02,162.65 520.69,161.48 527.20,159.80C534.46,157.93 544.78,156.12 550.90,156.40C554.83,156.58 557.10,157.87 560.50,158.70C564.37,159.65 569.48,159.60 572.90,161.80C576.37,164.03 578.59,169.18 581.10,172.10C583.07,174.38 584.60,175.62 586.60,178.00C589.35,181.28 592.51,186.42 595.80,190.20C598.99,193.87 602.15,198.00 606.00,200.40C609.61,202.65 614.11,204.05 618.00,204.50C621.49,204.91 624.64,203.76 628.20,203.50C632.10,203.21 636.42,202.73 640.50,202.90C644.58,203.07 648.87,203.50 652.70,204.50C656.32,205.45 659.66,207.55 662.90,208.60C665.72,209.51 668.15,210.66 671.00,210.60C674.21,210.53 678.48,209.59 681.20,207.60C683.98,205.57 685.20,201.69 687.40,198.40C689.93,194.62 692.94,189.83 695.50,186.20C697.63,183.16 699.85,179.67 701.60,178.00C702.59,177.06 703.06,176.85 704.30,176.20C706.58,175.00 711.11,172.60 714.60,172.10C717.98,171.62 721.38,172.21 724.90,173.10C728.89,174.11 734.09,176.30 737.20,178.30C739.46,179.76 740.01,181.97 742.40,183.10C745.82,184.72 751.94,184.42 756.70,185.10C761.44,185.78 766.23,185.97 770.90,187.20C775.73,188.47 780.35,191.80 785.20,192.70C789.89,193.57 795.09,193.96 799.50,192.70C803.92,191.43 807.45,186.51 811.70,185.10C815.64,183.80 820.01,183.33 824.00,184.10C828.19,184.91 831.84,188.01 836.20,190.20C841.24,192.73 846.34,196.13 852.50,198.40C859.83,201.10 870.99,201.97 877.60,204.50C882.28,206.29 885.12,208.59 889.00,210.60C892.98,212.66 896.74,215.05 901.20,216.70C906.15,218.54 912.06,220.80 917.50,220.80C922.96,220.80 928.41,217.79 933.90,216.70C939.32,215.63 945.03,214.41 950.20,214.30C954.88,214.20 958.87,215.03 963.60,215.70C968.97,216.47 974.73,217.97 980.70,218.80C987.18,219.70 994.31,219.95 1001.10,220.80C1007.91,221.65 1014.70,222.88 1021.50,223.90C1028.30,224.92 1035.12,225.66 1041.90,226.90C1048.72,228.15 1055.68,230.00 1062.30,231.40C1068.56,232.72 1074.30,234.47 1080.60,235.10C1087.18,235.76 1094.58,234.98 1101.00,235.10C1106.74,235.21 1112.27,235.12 1117.30,235.70C1121.71,236.21 1125.43,236.80 1129.60,238.10C1134.24,239.55 1138.54,242.79 1143.80,244.30C1149.84,246.03 1157.41,246.53 1164.00,247.30C1170.26,248.04 1176.01,248.11 1182.40,248.90C1189.42,249.76 1197.43,250.72 1204.40,252.40C1210.95,253.98 1217.45,257.46 1223.10,258.50C1227.57,259.32 1230.90,259.19 1235.40,259.10C1240.90,258.99 1247.43,257.93 1253.70,257.50C1260.31,257.05 1267.91,256.22 1274.10,256.50C1279.30,256.73 1283.47,258.31 1288.40,258.50C1293.65,258.70 1299.27,257.50 1304.70,257.50C1310.13,257.50 1315.83,257.43 1321.00,258.50C1325.97,259.52 1330.40,262.35 1335.20,263.60C1339.90,264.83 1344.93,266.06 1349.50,266.00C1353.73,265.94 1357.68,264.81 1361.70,263.60C1365.86,262.34 1370.28,259.72 1374.00,258.50C1376.94,257.53 1379.11,256.62 1382.10,256.50C1385.74,256.36 1390.68,258.86 1394.30,258.50C1397.35,258.20 1399.64,257.06 1402.50,255.40C1406.34,253.17 1410.60,248.54 1414.70,245.30C1418.73,242.11 1423.14,238.43 1426.90,236.10C1429.82,234.29 1432.53,232.75 1435.10,232.00C1437.17,231.40 1439.03,231.60 1441.00,231.40"/><path d="M72.00,553.00L169.20,553.00C173.70,548.13 178.53,543.25 182.70,538.40C186.59,533.88 189.76,529.93 193.50,524.90C197.97,518.89 203.31,510.52 207.50,504.60C210.80,499.94 213.25,496.36 216.50,492.20C219.98,487.74 223.89,482.75 227.80,478.70C231.41,474.95 236.52,471.86 239.00,468.60C240.76,466.28 241.65,464.13 242.40,461.80C243.11,459.59 242.31,456.84 243.50,455.00C244.79,453.00 247.50,452.12 250.30,450.50C254.42,448.12 260.52,444.40 266.10,442.60C271.77,440.77 277.75,440.01 284.10,439.70C291.16,439.36 299.11,440.24 306.60,441.10C314.15,441.97 322.40,443.68 329.20,444.90C334.80,445.90 339.13,447.38 344.50,447.80C350.35,448.25 357.42,448.42 363.00,447.20C367.96,446.11 372.35,443.96 376.50,441.50C380.62,439.05 384.01,435.74 387.80,432.50C391.87,429.01 395.73,424.73 400.10,421.20C404.58,417.59 409.53,414.03 414.40,411.10C419.04,408.30 423.62,405.53 428.60,403.90C433.58,402.27 439.31,401.71 444.30,401.30C448.80,400.93 452.81,400.99 457.20,401.30C461.83,401.62 467.17,401.88 471.40,403.30C475.21,404.58 478.53,406.68 481.60,409.00C484.66,411.31 487.22,414.05 489.80,417.20C492.70,420.74 494.86,425.99 497.90,429.40C500.63,432.46 503.71,434.38 506.90,437.00C510.43,439.90 513.87,443.77 518.20,446.00C522.82,448.38 528.71,449.30 534.00,450.50C539.21,451.69 544.11,452.93 549.70,453.20C556.02,453.51 564.53,454.04 570.00,451.70C574.73,449.68 578.11,445.42 581.30,441.50C584.53,437.53 586.46,431.61 589.20,428.00C591.33,425.19 593.42,423.85 595.80,421.20C598.89,417.77 602.00,411.51 606.00,409.00C609.53,406.79 613.80,406.22 618.00,406.00C622.54,405.76 627.37,407.81 632.30,408.00C637.55,408.20 643.42,408.06 648.60,407.00C653.60,405.98 658.50,403.13 662.90,401.90C666.55,400.88 669.72,399.64 673.10,399.80C676.52,399.96 680.62,400.80 683.30,402.90C686.13,405.11 687.37,409.70 689.40,413.10C691.43,416.50 693.41,420.07 695.50,423.30C697.48,426.35 698.78,429.70 701.60,432.00C704.81,434.62 710.12,436.94 714.30,437.50C718.08,438.01 721.85,436.81 725.50,435.90C729.18,434.98 732.81,433.59 736.30,432.00C739.82,430.40 742.98,427.22 746.50,426.30C749.79,425.44 753.04,426.63 756.70,426.30C761.06,425.90 765.90,424.90 770.90,423.70C776.67,422.31 784.02,418.71 789.30,418.20C793.16,417.83 796.37,418.29 799.50,419.20C802.44,420.06 804.86,422.11 807.60,423.30C810.29,424.47 812.75,425.89 815.80,426.30C819.42,426.79 824.03,426.40 828.00,425.30C832.21,424.13 836.02,421.18 840.30,419.20C844.84,417.10 849.90,414.85 854.50,413.10C858.71,411.50 862.82,410.22 866.80,409.00C870.50,407.87 874.06,407.57 877.60,406.00C881.48,404.28 885.08,401.01 889.00,398.80C892.94,396.58 896.72,394.21 901.20,392.70C906.14,391.03 912.44,389.65 917.50,389.60C921.88,389.56 925.75,390.68 929.80,391.70C933.92,392.74 937.88,395.13 942.00,395.80C946.01,396.46 949.85,396.08 954.20,395.80C959.25,395.48 964.77,394.49 970.50,393.70C976.92,392.81 984.09,391.62 990.90,390.70C997.69,389.78 1004.68,389.07 1011.30,388.20C1017.60,387.37 1023.26,386.36 1029.70,385.60C1036.79,384.77 1045.29,384.87 1052.10,383.50C1058.03,382.31 1063.02,379.77 1068.40,378.40C1073.54,377.09 1078.27,375.93 1083.70,375.40C1089.76,374.81 1097.14,375.27 1103.10,375.40C1108.20,375.51 1112.78,376.57 1117.30,376.00C1121.59,375.46 1125.24,373.77 1129.60,372.30C1134.68,370.59 1140.25,367.73 1145.90,366.20C1151.70,364.63 1157.94,364.11 1164.00,363.10C1170.11,362.08 1175.98,360.99 1182.40,360.10C1189.39,359.13 1197.84,358.77 1204.40,357.60C1209.83,356.63 1214.05,354.94 1219.10,354.00C1224.37,353.02 1229.81,351.94 1235.40,351.90C1241.32,351.86 1247.43,353.81 1253.70,354.00C1260.31,354.20 1267.30,353.18 1274.10,352.90C1280.90,352.62 1287.71,352.20 1294.50,352.30C1301.28,352.40 1308.64,353.87 1314.80,353.50C1320.00,353.19 1324.56,352.07 1329.10,350.90C1333.37,349.80 1337.18,347.82 1341.30,346.80C1345.35,345.80 1349.52,344.70 1353.60,344.80C1357.68,344.90 1362.03,345.92 1365.80,347.40C1369.48,348.85 1372.46,352.63 1376.00,353.50C1379.28,354.30 1383.00,353.19 1386.20,352.90C1389.06,352.64 1391.42,351.32 1394.30,351.90C1398.09,352.67 1402.59,356.34 1406.60,359.00C1410.76,361.76 1414.94,365.19 1418.80,368.20C1422.37,370.98 1425.24,374.53 1429.00,376.40C1432.66,378.22 1437.00,378.40 1441.00,379.40"/><path d="M72.00,127.60C80.33,127.67 89.37,127.20 97.00,127.80C103.51,128.31 109.08,128.96 115.00,130.50C121.09,132.09 127.47,134.90 133.00,137.30C137.91,139.43 143.79,140.68 146.60,144.00C149.08,146.92 147.68,151.77 150.00,155.30C152.96,159.81 159.88,163.81 164.70,167.70C169.21,171.34 173.78,175.12 178.00,178.00C181.55,180.42 184.64,181.99 188.20,184.10C192.10,186.41 196.10,188.78 200.50,191.30C205.54,194.18 211.30,197.66 216.80,200.40C222.17,203.08 227.27,205.60 233.10,207.60C239.43,209.77 247.85,211.55 253.50,212.70C257.46,213.50 259.70,213.99 263.70,214.30C269.32,214.74 277.33,214.91 284.10,214.30C290.93,213.69 297.69,211.62 304.50,210.60C311.26,209.59 318.10,208.77 324.80,208.20C331.33,207.65 338.65,206.99 344.20,207.20C348.39,207.36 351.11,207.67 355.20,208.60C360.60,209.83 367.81,211.98 373.60,214.70C379.37,217.41 384.55,222.03 389.90,224.90C394.74,227.50 398.96,229.35 404.20,231.40C410.32,233.79 417.70,236.53 424.50,238.10C431.07,239.62 437.59,240.12 444.30,240.80C451.19,241.50 458.47,241.97 465.30,242.20C471.79,242.42 478.32,242.97 484.30,242.20C489.83,241.49 495.26,240.22 500.00,238.10C504.51,236.08 508.46,233.06 512.20,230.00C515.92,226.96 518.85,223.35 522.40,219.80C526.28,215.92 530.39,211.25 534.60,207.60C538.57,204.16 542.40,200.35 546.90,198.40C551.26,196.51 556.37,195.74 561.10,195.90C565.87,196.06 571.27,197.21 575.40,199.40C579.39,201.51 582.35,205.09 585.60,208.60C589.18,212.46 592.01,217.86 595.80,221.80C599.50,225.64 603.86,230.26 608.00,232.00C611.29,233.38 614.67,233.22 618.00,233.00C621.40,232.78 624.50,231.29 628.20,230.60C632.55,229.79 638.15,228.40 642.50,228.60C646.20,228.77 649.22,229.74 652.70,231.00C656.67,232.44 660.79,235.22 664.90,237.10C668.96,238.95 672.87,241.65 677.20,242.20C681.69,242.77 687.44,241.64 691.40,240.20C694.65,239.02 697.29,237.45 699.60,235.10C702.16,232.50 704.02,228.55 705.70,224.90C707.45,221.10 707.89,216.09 709.80,212.70C711.44,209.80 713.26,206.88 715.90,205.50C718.65,204.06 722.67,203.75 726.10,204.50C730.13,205.38 734.29,210.07 738.30,211.60C741.74,212.92 744.80,213.50 748.50,213.70C752.85,213.93 758.26,211.90 762.80,212.30C767.06,212.67 771.00,214.17 775.00,215.70C779.17,217.30 783.09,220.81 787.30,221.80C791.27,222.73 795.28,222.09 799.50,221.80C804.09,221.48 809.06,219.62 813.80,219.80C818.56,219.98 823.21,221.22 828.00,222.90C833.36,224.78 838.62,228.66 844.30,231.00C850.17,233.42 856.84,236.74 862.70,237.10C867.88,237.42 872.95,234.69 877.60,234.10C881.63,233.59 884.68,233.13 889.00,233.50C894.85,234.00 902.57,236.98 909.40,238.10C916.17,239.21 923.00,239.42 929.80,240.20C936.60,240.98 943.40,242.02 950.20,242.80C956.97,243.58 963.72,244.65 970.50,244.90C977.28,245.15 984.96,244.65 990.90,244.30C995.52,244.03 999.11,243.20 1003.20,243.20C1007.28,243.20 1011.23,243.38 1015.40,244.30C1020.04,245.32 1024.90,248.04 1029.70,249.40C1034.40,250.73 1039.01,251.27 1043.90,252.40C1049.18,253.62 1054.85,255.03 1060.30,256.50C1065.75,257.97 1072.25,260.33 1076.60,261.20C1079.42,261.76 1080.81,261.87 1083.70,262.00C1088.20,262.20 1095.33,262.03 1101.00,261.60C1106.53,261.18 1112.24,259.60 1117.30,259.50C1121.68,259.41 1125.23,260.00 1129.60,260.60C1134.67,261.29 1140.32,262.61 1145.90,263.60C1151.77,264.64 1157.92,266.30 1164.00,266.70C1170.09,267.10 1176.66,265.99 1182.40,266.00C1187.44,266.01 1191.74,265.89 1196.60,266.60C1201.88,267.37 1207.63,269.47 1212.90,270.70C1217.81,271.85 1222.25,273.27 1227.20,273.80C1232.43,274.36 1237.76,273.94 1243.50,273.80C1249.92,273.64 1257.10,272.97 1263.90,272.80C1270.70,272.63 1277.50,272.90 1284.30,272.80C1291.10,272.70 1298.77,272.51 1304.70,272.20C1309.29,271.96 1312.70,271.03 1316.90,271.30C1321.47,271.59 1326.36,273.19 1331.10,274.20C1335.86,275.22 1340.80,276.89 1345.40,277.40C1349.60,277.86 1353.25,277.67 1357.60,277.40C1362.65,277.09 1368.84,275.83 1373.90,275.40C1378.28,275.02 1382.11,274.90 1386.20,274.80C1390.27,274.70 1394.36,275.30 1398.40,274.80C1402.50,274.29 1407.08,273.38 1410.60,271.70C1413.77,270.19 1416.19,267.99 1418.80,265.60C1421.65,262.99 1424.45,259.51 1426.90,256.50C1429.14,253.75 1430.45,249.78 1433.00,248.30C1435.26,246.98 1438.33,247.63 1441.00,247.30"/><path d="M72.00,483.20C80.33,482.97 89.36,483.17 97.00,482.50C103.54,481.92 109.13,481.17 115.10,479.80C121.16,478.41 127.61,476.42 133.10,474.20C138.01,472.21 143.80,470.82 146.60,467.40C149.18,464.25 147.57,458.79 150.00,455.00C152.97,450.36 159.53,446.88 164.70,442.60C170.38,437.91 177.58,431.88 182.70,428.00C186.35,425.23 188.58,423.42 192.30,421.20C196.93,418.43 203.16,415.81 208.60,413.10C214.06,410.38 219.13,407.23 225.00,404.90C231.31,402.40 238.46,400.22 245.30,398.80C252.03,397.40 258.89,396.80 265.70,396.40C272.49,396.00 279.48,396.15 286.10,396.40C292.40,396.64 298.23,397.02 304.50,397.80C311.12,398.62 318.09,400.38 324.80,401.30C331.32,402.20 338.64,403.12 344.20,403.30C348.38,403.44 351.12,403.63 355.20,402.90C360.61,401.93 367.97,399.32 373.60,396.80C378.79,394.48 383.33,391.24 387.90,388.60C392.13,386.16 395.77,383.51 400.10,381.50C404.59,379.42 409.62,377.94 414.40,376.40C419.12,374.88 423.71,373.31 428.60,372.30C433.66,371.25 438.97,370.97 444.30,370.30C449.83,369.60 455.60,368.62 461.20,368.20C466.70,367.79 472.15,367.62 477.60,367.80C483.05,367.98 488.98,367.90 493.90,369.30C498.39,370.58 502.41,372.74 506.10,375.40C509.90,378.14 512.90,382.20 516.30,385.60C519.70,389.00 522.87,392.48 526.50,395.80C530.31,399.29 534.45,403.23 538.70,406.00C542.65,408.58 546.82,410.57 551.00,412.10C555.00,413.56 559.31,415.01 563.20,415.10C566.74,415.18 570.17,414.60 573.40,413.10C577.02,411.42 580.55,407.97 583.60,404.90C586.65,401.84 588.99,398.10 591.70,394.70C594.42,391.30 596.78,387.41 599.90,384.50C602.94,381.67 606.75,378.45 610.10,377.40C612.77,376.56 615.36,377.07 618.00,377.40C620.73,377.74 623.32,378.76 626.20,379.50C629.41,380.32 632.82,381.74 636.40,382.10C640.26,382.49 644.63,382.53 648.60,381.50C652.81,380.40 656.48,377.42 660.90,375.40C665.92,373.11 671.85,369.42 677.20,368.60C682.00,367.86 687.46,368.50 691.40,369.90C694.68,371.06 697.34,372.76 699.60,375.40C702.34,378.61 703.64,384.29 705.70,388.60C707.70,392.79 709.04,398.16 711.80,400.90C714.05,403.14 716.95,404.69 720.00,404.90C723.62,405.15 728.11,402.09 732.20,400.90C736.25,399.72 740.30,398.14 744.40,397.80C748.46,397.46 752.46,398.92 756.70,398.80C761.27,398.67 766.24,398.10 770.90,396.80C775.75,395.45 780.77,392.09 785.20,390.70C788.83,389.57 791.59,388.74 795.40,388.60C800.19,388.42 806.64,390.46 811.70,390.70C816.08,390.91 819.70,391.23 824.00,390.30C829.15,389.18 834.91,385.96 840.30,383.50C845.77,381.00 851.69,376.91 856.60,375.40C860.29,374.26 863.38,373.71 866.80,374.00C870.38,374.30 873.91,376.93 877.60,377.40C881.31,377.87 884.67,377.28 889.00,376.80C894.83,376.15 902.59,374.38 909.40,373.30C916.19,372.22 922.99,371.15 929.80,370.30C936.59,369.45 943.42,369.05 950.20,368.20C956.98,367.35 963.71,365.53 970.50,365.20C977.28,364.87 983.79,365.97 990.90,366.20C998.69,366.45 1008.40,367.62 1015.40,366.60C1020.88,365.80 1024.38,363.61 1029.70,362.10C1036.31,360.22 1045.49,358.28 1052.10,356.40C1057.42,354.89 1061.61,353.16 1066.40,351.90C1071.11,350.66 1075.53,349.24 1080.60,348.90C1086.31,348.52 1093.25,349.84 1099.00,350.30C1104.07,350.71 1108.37,351.38 1113.30,351.50C1118.55,351.62 1124.21,351.67 1129.60,350.90C1135.07,350.12 1140.29,347.81 1145.90,346.80C1151.74,345.75 1157.93,345.30 1164.00,344.80C1170.10,344.30 1176.11,344.14 1182.40,343.80C1189.02,343.44 1196.91,343.67 1202.80,342.70C1207.43,341.94 1210.38,340.25 1215.00,339.30C1220.89,338.09 1228.77,336.86 1235.40,336.60C1241.65,336.36 1247.43,337.35 1253.70,337.60C1260.31,337.86 1267.30,338.10 1274.10,338.10C1280.90,338.10 1287.89,337.37 1294.50,337.60C1300.77,337.81 1306.71,339.46 1312.80,339.30C1318.91,339.14 1325.39,337.62 1331.10,336.60C1336.17,335.69 1340.45,334.05 1345.40,333.60C1350.63,333.12 1356.28,333.50 1361.70,334.00C1367.15,334.50 1372.73,336.44 1378.00,336.60C1382.91,336.75 1387.56,334.86 1392.30,335.20C1397.10,335.54 1402.14,336.90 1406.60,338.70C1410.96,340.46 1415.34,342.95 1418.80,345.80C1422.03,348.45 1424.73,352.18 1426.90,355.00C1428.58,357.18 1428.96,359.74 1431.00,361.10C1433.40,362.70 1437.67,362.43 1441.00,363.10"/><path d="M72.00,287.50C72.31,287.19 72.55,287.63 73.10,287.50C75.10,287.03 81.41,282.63 86.30,281.00C91.81,279.16 98.24,278.05 104.70,277.50C111.77,276.90 120.02,277.45 127.10,277.90C133.52,278.31 140.42,277.84 145.40,279.90C149.60,281.64 151.73,285.78 155.60,288.10C159.81,290.63 167.73,291.44 169.90,294.20C171.27,295.94 170.89,298.22 170.90,300.30C170.92,302.48 170.05,305.02 169.90,307.00C169.78,308.56 169.76,309.74 169.90,311.20C170.06,312.82 171.50,314.97 170.90,316.30C170.26,317.72 167.84,318.30 165.80,319.30C163.02,320.66 158.90,321.62 155.60,323.40C152.09,325.30 149.52,328.87 145.40,330.50C140.37,332.49 133.53,332.73 127.10,333.20C120.03,333.72 111.31,333.82 104.70,333.20C99.37,332.70 94.39,332.05 90.40,330.50C87.15,329.23 85.11,326.58 82.20,325.40C79.34,324.24 74.67,323.57 73.10,323.40C72.56,323.34 72.31,323.71 72.00,323.40L72.00,287.50Z"/><path d="M340.10,296.20C340.88,294.67 342.40,294.08 344.20,293.20C346.90,291.89 351.39,290.69 355.20,290.10C359.15,289.49 363.26,289.55 367.50,289.70C372.07,289.87 377.76,290.03 381.70,291.20C384.79,292.12 388.84,293.33 389.50,295.20C390.08,296.83 387.42,299.26 386.80,301.30C386.22,303.20 385.37,305.64 385.80,307.00C386.11,307.98 387.34,308.08 387.90,309.10C388.78,310.71 390.41,314.61 389.50,316.30C388.53,318.10 384.74,318.51 381.70,319.30C377.72,320.33 372.07,321.05 367.50,321.30C363.26,321.53 359.16,321.43 355.20,320.90C351.40,320.39 346.89,319.56 344.20,318.30C342.39,317.45 340.90,316.81 340.10,315.20C338.97,312.94 340.10,308.27 340.10,305.00C340.10,301.96 339.08,298.21 340.10,296.20Z"/><path d="M568.30,256.50C570.06,256.29 571.86,258.08 573.40,259.60C575.35,261.52 577.32,264.37 578.50,267.70C580.05,272.06 581.04,279.54 580.50,284.00C580.11,287.26 578.94,289.81 577.40,292.20C575.87,294.57 571.97,296.11 571.30,298.30C570.75,300.10 572.49,302.00 572.40,304.00C572.29,306.27 569.84,309.01 570.30,311.20C570.77,313.46 573.66,315.39 575.40,317.30C577.06,319.12 579.72,319.92 580.50,322.40C581.71,326.27 578.80,334.75 577.40,339.70C576.29,343.61 575.22,347.42 573.40,349.90C571.99,351.82 569.86,354.27 568.30,354.00C566.40,353.68 564.82,349.09 563.20,345.80C561.02,341.38 558.73,334.32 557.10,329.50C555.82,325.73 554.24,322.88 554.00,319.30C553.74,315.44 556.11,310.08 556.00,307.10C555.93,305.36 554.75,304.17 555.00,303.00C555.23,301.94 556.92,301.51 557.10,300.30C557.39,298.38 554.26,294.75 554.00,292.20C553.78,290.03 554.42,288.69 555.00,286.00C556.12,280.83 558.10,268.73 561.10,263.60C563.08,260.22 566.01,256.77 568.30,256.50Z"/><path d="M637.40,297.30C638.28,295.45 640.80,293.20 642.50,293.20C644.20,293.20 646.59,295.35 647.60,297.30C648.83,299.67 648.40,303.91 648.20,307.00C648.01,309.86 647.97,313.41 646.60,315.20C645.47,316.68 643.09,317.77 641.50,317.70C640.04,317.63 638.21,316.64 637.40,315.20C636.22,313.10 637.40,308.16 637.40,305.00C637.40,302.25 636.44,299.30 637.40,297.30Z"/><path d="M742.40,294.20C743.45,292.27 747.62,291.46 750.60,291.20C754.01,290.90 759.63,290.61 761.80,293.20C764.82,296.81 763.30,311.07 761.80,315.20C761.10,317.14 760.27,318.17 758.70,318.90C756.42,319.96 751.13,320.08 748.50,318.90C746.22,317.88 744.18,315.58 743.40,313.20C742.50,310.44 744.61,306.26 744.40,303.00C744.21,299.94 741.33,296.17 742.40,294.20Z"/><path d="M814.80,300.30C817.11,295.28 814.20,279.97 815.80,273.80C816.73,270.19 817.93,267.16 819.90,265.70C821.52,264.49 823.63,264.52 826.00,264.60C829.38,264.72 834.50,265.85 838.20,267.70C841.98,269.59 845.07,273.77 848.40,275.90C851.18,277.69 853.51,279.54 856.60,280.00C860.19,280.53 865.07,278.64 868.80,277.90C871.98,277.27 874.46,276.31 877.60,275.90C881.13,275.44 885.15,275.19 889.00,275.50C893.02,275.82 897.55,276.40 901.20,277.90C904.64,279.31 908.83,281.58 910.40,284.00C911.57,285.81 911.74,287.87 911.40,290.10C910.94,293.13 907.12,296.84 906.30,300.30C905.54,303.51 905.58,306.80 906.30,310.10C907.10,313.79 911.21,318.08 911.40,321.30C911.54,323.64 910.94,325.70 909.40,327.50C907.17,330.10 900.94,332.23 897.20,333.60C894.26,334.68 891.98,335.37 889.00,335.60C885.53,335.86 881.14,335.15 877.60,334.60C874.46,334.11 871.98,333.23 868.80,332.60C865.07,331.86 860.40,329.94 856.60,330.50C852.95,331.04 849.49,333.52 846.40,335.60C843.37,337.64 841.56,341.06 838.20,342.80C834.31,344.81 827.60,347.10 824.00,346.20C821.29,345.52 819.21,343.41 817.80,340.70C815.76,336.77 816.49,328.99 815.80,323.40C815.15,318.14 815.55,311.10 813.80,308.10C812.79,306.37 809.76,306.18 809.70,305.00C809.63,303.63 813.62,302.87 814.80,300.30Z"/><path d="M1007.20,295.20C1007.86,293.97 1009.34,293.65 1011.30,293.20C1015.45,292.24 1027.74,291.95 1031.70,293.20C1033.56,293.79 1034.69,294.35 1035.40,295.80C1036.51,298.08 1034.75,303.68 1034.80,307.00C1034.84,309.67 1036.11,312.35 1035.40,314.20C1034.81,315.75 1033.65,316.92 1031.70,317.70C1027.79,319.26 1015.42,318.86 1011.30,317.70C1009.30,317.14 1007.51,316.31 1007.20,315.20C1006.90,314.13 1009.00,312.83 1009.30,311.20C1009.70,309.00 1008.65,305.70 1008.30,303.00C1007.95,300.37 1006.34,296.82 1007.20,295.20Z"/><path d="M1102.00,294.20C1103.46,291.71 1107.56,290.21 1111.20,289.10C1115.74,287.72 1122.49,287.22 1127.50,287.70C1131.93,288.13 1136.70,289.62 1139.80,291.20C1142.01,292.32 1143.71,293.20 1144.90,295.20C1146.51,297.91 1147.09,303.13 1146.90,307.00C1146.71,310.83 1146.32,315.65 1143.80,318.30C1140.96,321.29 1134.56,322.29 1129.60,323.00C1124.42,323.74 1118.06,323.88 1113.30,322.40C1108.98,321.05 1103.84,318.55 1102.00,315.20C1100.25,312.00 1102.00,306.74 1102.00,303.00C1102.00,299.83 1100.66,296.47 1102.00,294.20Z"/><path d="M1412.30,296.20C1412.34,294.96 1411.92,293.97 1412.70,293.10C1414.39,291.21 1422.16,290.72 1426.90,289.70C1431.60,288.69 1438.11,284.61 1441.00,287.00L1441.00,323.40C1439.61,324.45 1437.43,322.30 1435.10,321.70C1431.77,320.84 1426.82,319.85 1422.90,318.90C1419.24,318.01 1414.09,318.58 1412.30,316.20C1410.33,313.59 1412.75,306.68 1412.70,303.00C1412.66,300.36 1412.24,298.02 1412.30,296.20Z"/><path d="M73.5,70V81M74.5,74V77M73.5,469V478M73.5,294V301M73.5,309V317M73.5,531V541M74.5,534V537M1440.5,296V300M1440.5,311V315"/></g></g>
<text x="504.9" y="116.3" class="cl" textLength="21.8" lengthAdjust="spacingAndGlyphs">-9.0</text>
<text x="594.4" y="99.6" class="cl" textLength="28.2" lengthAdjust="spacingAndGlyphs">-15.0</text>
<text x="644.1" y="113.9" class="cl" textLength="28.8" lengthAdjust="spacingAndGlyphs">-18.0</text>
<text x="886.8" y="174.4" class="cl" textLength="28.6" lengthAdjust="spacingAndGlyphs">-12.0</text>
<text x="235.4" y="213.2" class="cl" textLength="21.2" lengthAdjust="spacingAndGlyphs">-3.0</text>
<text x="472.8" y="213.1" class="cl" textLength="22.5" lengthAdjust="spacingAndGlyphs">-6.0</text>
<text x="450.2" y="310.4" class="cl" textLength="18.5" lengthAdjust="spacingAndGlyphs">0.0</text>
<text x="1095.3" y="95.7" class="cl" textLength="29.1" lengthAdjust="spacingAndGlyphs">-27.0</text>
<text x="1141.7" y="119.8" class="cl" textLength="28.6" lengthAdjust="spacingAndGlyphs">-24.0</text>
<text x="1051.4" y="127.6" class="cl" textLength="29.1" lengthAdjust="spacingAndGlyphs">-21.0</text>
<path d="M193.5,57V559M278.5,57V559M344.5,57V559M399.5,57V559M444.5,57V559M484.5,57V559M519.5,57V559M550.5,57V559M756.5,57V559M877.5,57V559M963.5,57V559M1029.5,57V559M1083.5,57V559M1129.5,57V559M1169.5,57V559M1204.5,57V559M1235.5,57V559M67,107.5H1441M67,156.5H1441M67,206.5H1441M67,255.5H1441M67,305.5H1441M67,355.5H1441M67,404.5H1441M67,454.5H1441M67,503.5H1441" stroke="#808080" stroke-width="1" fill="none"/>
<path d="M72.5,57.5V559M1441.5,57V559M67,57.5H1442M67,553.5H1442" stroke="#808080" stroke-width="1" fill="none"/>
<text x="756.6" y="39.6" class="ax" text-anchor="middle" style="font-size:18.6px;letter-spacing:0.05px">Directivity pattern</text>
<text x="66.5" y="41.8" class="ax" text-anchor="end">deg</text>
<text x="65" y="64.0" class="ax" text-anchor="end">-100.0</text>
<text x="65" y="113.6" class="ax" text-anchor="end">-80.0</text>
<text x="65" y="163.2" class="ax" text-anchor="end">-60.0</text>
<text x="65" y="212.8" class="ax" text-anchor="end">-40.0</text>
<text x="65" y="262.4" class="ax" text-anchor="end">-20.0</text>
<text x="65" y="312.0" class="ax" text-anchor="end">0.0</text>
<text x="65" y="361.6" class="ax" text-anchor="end">20.0</text>
<text x="65" y="411.2" class="ax" text-anchor="end">40.0</text>
<text x="65" y="460.8" class="ax" text-anchor="end">60.0</text>
<text x="65" y="510.4" class="ax" text-anchor="end">80.0</text>
<text x="65" y="560.0" class="ax" text-anchor="end">100.0</text>
<text x="72.8" y="582" class="ax" text-anchor="middle">200</text>
<text x="345.2" y="582" class="ax" text-anchor="middle">500</text>
<text x="551.2" y="582" class="ax" text-anchor="middle">1k</text>
<text x="757.3" y="582" class="ax" text-anchor="middle">2k</text>
<text x="1029.7" y="582" class="ax" text-anchor="middle">5k</text>
<text x="1235.7" y="582" class="ax" text-anchor="middle">10k</text>
<text x="1441.8" y="582" class="ax" text-anchor="middle">20k</text>
<text x="1418.5" y="604" class="ax" text-anchor="middle">F(Hz)</text>
<text x="1450.6" y="71.6" class="ax" text-anchor="middle" style="font-size:16.5px">A</text>
<text x="1450.6" y="88.8" class="ax" text-anchor="middle" style="font-size:16.5px">R</text>
<text x="1450.6" y="105.4" class="ax" text-anchor="middle" style="font-size:16.5px">T</text>
<text x="1450.6" y="122.5" class="ax" text-anchor="middle" style="font-size:16.5px">A</text>
<rect x="1463" y="57.00" width="18" height="49.98" fill="#800000"/><rect x="1463" y="106.68" width="18" height="49.98" fill="#E60000"/><rect x="1463" y="156.36" width="18" height="49.98" fill="#FF4D00"/><rect x="1463" y="206.04" width="18" height="49.98" fill="#FFB300"/><rect x="1463" y="255.72" width="18" height="49.98" fill="#E6FF1A"/><rect x="1463" y="305.40" width="18" height="49.98" fill="#80FF80"/><rect x="1463" y="355.08" width="18" height="49.98" fill="#1AFFE6"/><rect x="1463" y="404.76" width="18" height="49.98" fill="#00B3FF"/><rect x="1463" y="454.44" width="18" height="49.98" fill="#004DFF"/><rect x="1463" y="504.12" width="18" height="49.98" fill="#0000E6"/>
<path d="M1481.5,57V554" stroke="#a0a0a0" stroke-width="1"/>
<text x="1490" y="64" class="ax">dB</text>
<text x="1494" y="113.2" class="ax">0.0</text>
<text x="1488.4" y="162.9" class="ax">-3.0</text>
<text x="1488.4" y="212.5" class="ax">-6.0</text>
<text x="1488.4" y="262.2" class="ax">-9.0</text>
<text x="1488.4" y="311.9" class="ax">-12.0</text>
<text x="1488.4" y="361.6" class="ax">-15.0</text>
<text x="1488.4" y="411.3" class="ax">-18.0</text>
<text x="1488.4" y="460.9" class="ax">-21.0</text>
<text x="1488.4" y="510.6" class="ax">-24.0</text>
<text x="1488.4" y="560.3" class="ax">-27.0</text>
</svg>
<div class="t" style="left:73px;top:612.1px;font-size:16px;">www.Jobst-Audio.de</div>
<div class="t" style="left:230.6px;top:612.1px;font-size:16px;letter-spacing:0.85px">||</div>
<div class="t" style="left:250px;top:612.1px;font-size:16px;letter-spacing:0.32px">LF-Sat215 V2</div>
<div class="t" style="left:361.8px;top:612.1px;font-size:16px;letter-spacing:0.85px">||</div>
<div class="t" style="left:380.3px;top:612.1px;font-size:16px;letter-spacing:0.23px">Abstrahlung horizontal in 5&deg; Schritten.</div>
<div style="position:absolute;left:5.2px;top:558.2px;width:47.6px;height:47.4px;border-radius:4.5px;background:#6b7b92;">
<svg width="48" height="48" style="position:absolute;left:0;top:0"><path d="M5,3.8H12.8V27.5H23.4V33.7H5Z M25.1,14.2H43.1V21.3H32.7V27H42.2V33.2H32.7V44.6H25.1Z" fill="#80c0ff" stroke="#b8dcff" stroke-width="0.7"/></svg></div>
<div class="t" style="left:5.5px;top:603.5px;font-size:20.5px;font-weight:bold;color:#6b7b92;opacity:0.9;">LautsprecherForum.eu</div>
</body></html>
